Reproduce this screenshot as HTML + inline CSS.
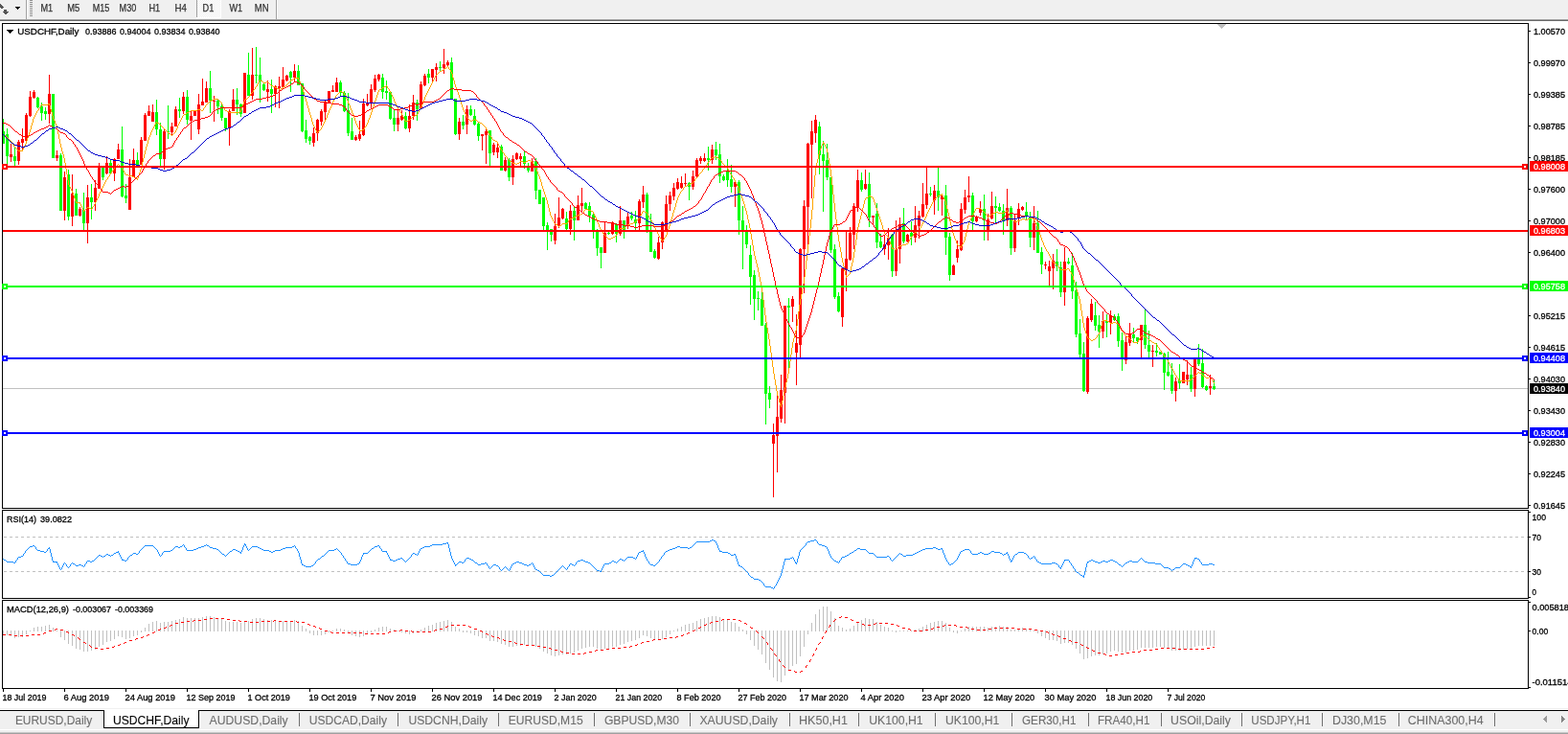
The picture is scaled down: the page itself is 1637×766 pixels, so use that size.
<!DOCTYPE html>
<html><head><meta charset="utf-8"><title>USDCHF,Daily</title>
<style>
html,body{margin:0;padding:0;background:#fff;}
body{width:1637px;height:766px;overflow:hidden;font-family:"Liberation Sans", sans-serif;}
svg{display:block;}
text{white-space:pre;}
.tx text{stroke-width:0.3px;}
.tx .tb text{stroke-width:0.1px;}
</style></head><body>
<svg width="1637" height="766" viewBox="0 0 1637 766" font-family='"Liberation Sans", sans-serif'><g shape-rendering="crispEdges"><defs><clipPath id="cm"><rect x="3" y="25" width="1592" height="505"/></clipPath><clipPath id="cr"><rect x="3" y="533" width="1592" height="91"/></clipPath><clipPath id="cd"><rect x="3" y="627" width="1592" height="91"/></clipPath><pattern id="chk" width="2" height="2" patternUnits="userSpaceOnUse"><rect width="2" height="2" fill="#f0f0f0"/><rect width="1" height="1" fill="#fff"/><rect x="1" y="1" width="1" height="1" fill="#fff"/></pattern></defs><rect x="0" y="0" width="1637" height="20" fill="#f0f0f0"/><rect x="0" y="19" width="1637" height="1" fill="#f5f5f5"/><rect x="0" y="20" width="1637" height="1" fill="#a0a0a0"/><rect x="0" y="21" width="1637" height="1" fill="#696969"/><rect x="27" y="0" width="1" height="20" fill="#a0a0a0"/><rect x="28" y="0" width="1" height="20" fill="#fff"/><rect x="31" y="0" width="3" height="1" fill="#909090"/><rect x="31" y="2" width="3" height="1" fill="#909090"/><rect x="31" y="4" width="3" height="1" fill="#909090"/><rect x="31" y="6" width="3" height="1" fill="#909090"/><rect x="31" y="8" width="3" height="1" fill="#909090"/><rect x="31" y="10" width="3" height="1" fill="#909090"/><rect x="31" y="12" width="3" height="1" fill="#909090"/><rect x="31" y="14" width="3" height="1" fill="#909090"/><rect x="31" y="16" width="3" height="1" fill="#909090"/><rect x="206" y="0" width="24" height="18" fill="url(#chk)"/><rect x="205" y="0" width="1" height="18" fill="#a0a0a0"/><rect x="230" y="0" width="1" height="19" fill="#fff"/><rect x="205" y="18" width="26" height="1" fill="#fff"/><rect x="288" y="0" width="1" height="20" fill="#a0a0a0"/><rect x="289" y="0" width="1" height="20" fill="#fff"/><path d="M0 4l4 3.5l-1.5 2l-2.5-2z" fill="#555"/><path d="M4 10h3v1.5h2.5l-4 4l-4-4h2.5z" fill="#555"/><path d="M16 7h5v1h-1v1h-1v1h-1v-1h-1v-1h-1z" fill="#000"/><g fill="#333" stroke="#333" stroke-width="0.25" font-size="10.3"><text x="42.5" y="12" textLength="12.7" lengthAdjust="spacingAndGlyphs">M1</text><text x="70.3" y="12" textLength="13.0" lengthAdjust="spacingAndGlyphs">M5</text><text x="96.7" y="12" textLength="17.6" lengthAdjust="spacingAndGlyphs">M15</text><text x="124.6" y="12" textLength="17.6" lengthAdjust="spacingAndGlyphs">M30</text><text x="155.4" y="12" textLength="11.7" lengthAdjust="spacingAndGlyphs">H1</text><text x="182.5" y="12" textLength="12.4" lengthAdjust="spacingAndGlyphs">H4</text><text x="211.5" y="12" textLength="11.8" lengthAdjust="spacingAndGlyphs">D1</text><text x="239.4" y="12" textLength="13.6" lengthAdjust="spacingAndGlyphs">W1</text><text x="265.8" y="12" textLength="14.7" lengthAdjust="spacingAndGlyphs">MN</text></g><rect x="3" y="405" width="1592" height="1" fill="#c0c0c0"/><g clip-path="url(#cm)"><path d="M3 124h1v26h-1zM2 137h3v13h-3zM7 134h1v38h-1zM6 140h3v23h-3zM15 154h1v19h-1zM14 163h3v5h-3zM39 101h1v12h-1zM38 102h3v10h-3zM43 107h1v19h-1zM42 111h3v7h-3zM47 112h1v13h-1zM46 116h3v3h-3zM55 98h1v67h-1zM54 98h3v67h-3zM63 160h1v60h-1zM62 162h3v58h-3zM71 177h1v53h-1zM70 182h3v44h-3zM79 197h1v28h-1zM78 202h3v23h-3zM87 201h1v39h-1zM86 219h3v14h-3zM95 192h1v37h-1zM94 206h3v5h-3zM107 173h1v15h-1zM106 174h3v11h-3zM115 166h1v15h-1zM114 170h3v11h-3zM127 132h1v74h-1zM126 156h3v49h-3zM131 192h1v20h-1zM130 204h3v3h-3zM143 159h1v13h-1zM142 167h3v5h-3zM163 104h1v37h-1zM162 117h3v18h-3zM167 128h1v45h-1zM166 135h3v31h-3zM175 110h1v35h-1zM174 137h3v1h-3zM187 102h1v21h-1zM186 114h3v2h-3zM195 94h1v36h-1zM194 101h3v24h-3zM219 74h1v44h-1zM218 92h3v13h-3zM227 103h1v16h-1zM226 105h3v6h-3zM231 108h1v18h-1zM230 111h3v12h-3zM235 123h1v14h-1zM234 123h3v11h-3zM247 92h1v28h-1zM246 104h3v5h-3zM251 108h1v14h-1zM250 109h3v10h-3zM259 55h1v45h-1zM258 78h3v22h-3zM267 49h1v38h-1zM266 78h3v1h-3zM271 60h1v47h-1zM270 78h3v7h-3zM275 87h1v8h-1zM274 88h3v6h-3zM283 83h1v35h-1zM282 93h3v5h-3zM303 74h1v22h-1zM302 75h3v6h-3zM311 68h1v21h-1zM310 74h3v15h-3zM315 87h1v51h-1zM314 87h3v50h-3zM319 125h1v24h-1zM318 136h3v9h-3zM323 142h1v9h-1zM322 143h3v4h-3zM355 84h1v16h-1zM354 86h3v11h-3zM359 95h1v22h-1zM358 97h3v19h-3zM363 97h1v45h-1zM362 115h3v24h-3zM367 123h1v23h-1zM366 137h3v9h-3zM399 77h1v26h-1zM398 81h3v15h-3zM403 84h1v20h-1zM402 95h3v2h-3zM407 96h1v29h-1zM406 96h3v28h-3zM411 114h1v23h-1zM410 123h3v7h-3zM423 117h1v18h-1zM422 121h3v13h-3zM435 104h1v22h-1zM434 107h3v7h-3zM447 72h1v15h-1zM446 77h3v4h-3zM459 64h1v10h-1zM458 70h3v1h-3zM471 60h1v43h-1zM470 65h3v38h-3zM475 103h1v38h-1zM474 103h3v37h-3zM483 120h1v15h-1zM482 127h3v4h-3zM491 110h1v11h-1zM490 114h3v6h-3zM495 114h1v17h-1zM494 121h3v9h-3zM499 128h1v19h-1zM498 129h3v13h-3zM511 136h1v37h-1zM510 136h3v24h-3zM523 151h1v27h-1zM522 153h3v25h-3zM531 165h1v24h-1zM530 167h3v18h-3zM547 158h1v18h-1zM546 163h3v8h-3zM551 170h1v10h-1zM550 175h3v3h-3zM559 165h1v43h-1zM558 168h3v31h-3zM563 198h1v15h-1zM562 198h3v15h-3zM567 206h1v34h-1zM566 206h3v30h-3zM571 232h1v29h-1zM570 235h3v5h-3zM575 239h1v13h-1zM574 239h3v6h-3zM591 221h1v19h-1zM590 228h3v11h-3zM599 215h1v36h-1zM598 220h3v10h-3zM611 211h1v8h-1zM610 212h3v6h-3zM615 211h1v21h-1zM614 215h3v10h-3zM619 223h1v26h-1zM618 224h3v16h-3zM623 239h1v28h-1zM622 242h3v17h-3zM627 258h1v22h-1zM626 258h3v6h-3zM635 242h1v3h-1zM634 243h3v1h-3zM643 233h1v20h-1zM642 234h3v10h-3zM651 230h1v19h-1zM650 230h3v10h-3zM659 221h1v9h-1zM658 225h3v3h-3zM663 220h1v20h-1zM662 229h3v4h-3zM675 201h1v42h-1zM674 203h3v37h-3zM679 223h1v40h-1zM678 240h3v23h-3zM683 260h1v10h-1zM682 262h3v7h-3zM719 190h1v19h-1zM718 191h3v4h-3zM739 153h1v25h-1zM738 165h3v2h-3zM747 148h1v19h-1zM746 156h3v6h-3zM751 150h1v41h-1zM750 161h3v23h-3zM755 182h1v7h-1zM754 184h3v4h-3zM759 166h1v29h-1zM758 179h3v9h-3zM763 172h1v29h-1zM762 187h3v8h-3zM771 188h1v57h-1zM770 190h3v40h-3zM775 215h1v66h-1zM774 230h3v10h-3zM779 235h1v24h-1zM778 241h3v14h-3zM783 256h1v62h-1zM782 266h3v23h-3zM787 282h1v52h-1zM786 287h3v25h-3zM791 304h1v20h-1zM790 311h3v1h-3zM795 305h1v35h-1zM794 312h3v28h-3zM799 337h1v106h-1zM798 339h3v72h-3zM803 403h1v23h-1zM802 410h3v7h-3zM823 311h1v73h-1zM822 319h3v2h-3zM855 127h1v55h-1zM854 132h3v30h-3zM859 147h1v74h-1zM858 161h3v7h-3zM863 150h1v38h-1zM862 167h3v18h-3zM867 185h1v79h-1zM866 185h3v76h-3zM871 255h1v57h-1zM870 260h3v50h-3zM875 305h1v21h-1zM874 309h3v16h-3zM899 180h1v20h-1zM898 188h3v10h-3zM907 180h1v57h-1zM906 192h3v35h-3zM915 212h1v47h-1zM914 223h3v30h-3zM919 244h1v15h-1zM918 252h3v6h-3zM931 244h1v45h-1zM930 245h3v38h-3zM943 217h1v37h-1zM942 233h3v19h-3zM951 231h1v25h-1zM950 243h3v4h-3zM971 195h1v10h-1zM970 202h3v1h-3zM979 175h1v45h-1zM978 199h3v7h-3zM987 193h1v73h-1zM986 204h3v44h-3zM991 243h1v50h-1zM990 247h3v40h-3zM1015 201h1v39h-1zM1014 204h3v27h-3zM1027 203h1v48h-1zM1026 218h3v12h-3zM1039 205h1v28h-1zM1038 215h3v2h-3zM1043 212h1v9h-1zM1042 216h3v4h-3zM1047 213h1v32h-1zM1046 220h3v10h-3zM1055 215h1v51h-1zM1054 217h3v42h-3zM1071 211h1v18h-1zM1070 221h3v5h-3zM1075 221h1v37h-1zM1074 226h3v22h-3zM1083 220h1v44h-1zM1082 233h3v31h-3zM1087 258h1v28h-1zM1086 263h3v13h-3zM1103 260h1v23h-1zM1102 273h3v5h-3zM1107 273h1v37h-1zM1106 279h3v26h-3zM1115 269h1v7h-1zM1114 273h3v2h-3zM1119 264h1v48h-1zM1118 277h3v27h-3zM1123 294h1v58h-1zM1122 303h3v46h-3zM1127 333h1v40h-1zM1126 348h3v22h-3zM1131 357h1v52h-1zM1130 369h3v39h-3zM1143 315h1v30h-1zM1142 329h3v11h-3zM1147 329h1v34h-1zM1146 339h3v7h-3zM1155 328h1v24h-1zM1154 335h3v2h-3zM1163 328h1v7h-1zM1162 330h3v4h-3zM1167 327h1v35h-1zM1166 330h3v26h-3zM1171 347h1v40h-1zM1170 355h3v20h-3zM1183 342h1v15h-1zM1182 349h3v4h-3zM1187 352h1v7h-1zM1186 352h3v4h-3zM1195 323h1v41h-1zM1194 339h3v21h-3zM1199 345h1v28h-1zM1198 360h3v7h-3zM1207 358h1v14h-1zM1206 366h3v2h-3zM1211 367h1v3h-1zM1210 367h3v3h-3zM1215 368h1v39h-1zM1214 369h3v20h-3zM1219 367h1v26h-1zM1218 388h3v4h-3zM1223 379h1v32h-1zM1222 391h3v17h-3zM1231 380h1v26h-1zM1230 397h3v3h-3zM1243 383h1v26h-1zM1242 391h3v15h-3zM1251 359h1v23h-1zM1250 375h3v5h-3zM1255 364h1v41h-1zM1254 379h3v25h-3zM1259 402h1v6h-1zM1258 403h3v4h-3zM1267 396h1v11h-1zM1266 403h3v3h-3z" fill="#00ff00"/><path d="M11 150h1v19h-1zM10 161h3v3h-3zM19 146h1v26h-1zM18 148h3v20h-3zM23 134h1v23h-1zM22 145h3v4h-3zM27 118h1v29h-1zM26 120h3v27h-3zM31 95h1v27h-1zM30 101h3v20h-3zM35 94h1v9h-1zM34 96h3v6h-3zM51 78h1v51h-1zM50 98h3v21h-3zM59 157h1v11h-1zM58 162h3v3h-3zM67 179h1v51h-1zM66 185h3v35h-3zM75 182h1v54h-1zM74 202h3v24h-3zM83 216h1v10h-1zM82 218h3v7h-3zM91 193h1v61h-1zM90 206h3v27h-3zM99 188h1v32h-1zM98 196h3v15h-3zM103 170h1v27h-1zM102 173h3v24h-3zM111 163h1v19h-1zM110 170h3v11h-3zM119 165h1v24h-1zM118 166h3v15h-3zM123 150h1v16h-1zM122 156h3v10h-3zM135 166h1v53h-1zM134 185h3v34h-3zM139 155h1v30h-1zM138 167h3v18h-3zM147 143h1v29h-1zM146 146h3v26h-3zM151 118h1v29h-1zM150 120h3v27h-3zM155 110h1v11h-1zM154 116h3v5h-3zM159 109h1v18h-1zM158 117h3v10h-3zM171 134h1v43h-1zM170 137h3v29h-3zM179 128h1v13h-1zM178 132h3v6h-3zM183 111h1v21h-1zM182 114h3v18h-3zM191 96h1v23h-1zM190 101h3v15h-3zM199 116h1v30h-1zM198 121h3v5h-3zM203 116h1v5h-1zM202 116h3v5h-3zM207 98h1v42h-1zM206 109h3v26h-3zM211 82h1v28h-1zM210 106h3v4h-3zM215 85h1v22h-1zM214 92h3v15h-3zM223 100h1v27h-1zM222 105h3v1h-3zM239 114h1v38h-1zM238 116h3v18h-3zM243 93h1v23h-1zM242 104h3v12h-3zM255 76h1v42h-1zM254 76h3v42h-3zM263 50h1v54h-1zM262 78h3v22h-3zM279 84h1v22h-1zM278 93h3v3h-3zM287 89h1v23h-1zM286 90h3v8h-3zM291 80h1v33h-1zM290 90h3v2h-3zM295 70h1v21h-1zM294 83h3v8h-3zM299 78h1v7h-1zM298 79h3v5h-3zM307 67h1v18h-1zM306 74h3v7h-3zM327 133h1v20h-1zM326 139h3v10h-3zM331 124h1v23h-1zM330 125h3v14h-3zM335 114h1v17h-1zM334 116h3v11h-3zM339 105h1v20h-1zM338 106h3v11h-3zM343 95h1v12h-1zM342 95h3v12h-3zM347 89h1v7h-1zM346 94h3v2h-3zM351 81h1v15h-1zM350 86h3v10h-3zM371 141h1v6h-1zM370 143h3v3h-3zM375 126h1v21h-1zM374 140h3v5h-3zM379 103h1v39h-1zM378 108h3v33h-3zM383 98h1v13h-1zM382 107h3v3h-3zM387 88h1v26h-1zM386 93h3v14h-3zM391 78h1v18h-1zM390 82h3v12h-3zM395 77h1v8h-1zM394 78h3v5h-3zM415 114h1v23h-1zM414 123h3v7h-3zM419 115h1v11h-1zM418 121h3v4h-3zM427 109h1v29h-1zM426 121h3v13h-3zM431 99h1v26h-1zM430 107h3v14h-3zM439 85h1v29h-1zM438 88h3v26h-3zM443 77h1v13h-1zM442 79h3v10h-3zM451 72h1v13h-1zM450 72h3v9h-3zM455 66h1v19h-1zM454 70h3v3h-3zM463 51h1v26h-1zM462 67h3v4h-3zM467 63h1v6h-1zM466 65h3v3h-3zM479 123h1v23h-1zM478 127h3v13h-3zM487 110h1v30h-1zM486 114h3v16h-3zM503 140h1v17h-1zM502 140h3v2h-3zM507 135h1v36h-1zM506 137h3v4h-3zM515 149h1v13h-1zM514 151h3v8h-3zM519 149h1v16h-1zM518 154h3v5h-3zM527 164h1v15h-1zM526 167h3v11h-3zM535 162h1v31h-1zM534 166h3v19h-3zM539 159h1v8h-1zM538 160h3v6h-3zM543 160h1v13h-1zM542 163h3v3h-3zM555 165h1v14h-1zM554 168h3v11h-3zM579 223h1v32h-1zM578 236h3v15h-3zM583 206h1v32h-1zM582 227h3v8h-3zM587 217h1v12h-1zM586 218h3v10h-3zM595 214h1v31h-1zM594 220h3v19h-3zM603 204h1v26h-1zM602 214h3v16h-3zM607 196h1v25h-1zM606 212h3v3h-3zM631 232h1v32h-1zM630 243h3v21h-3zM639 231h1v14h-1zM638 233h3v11h-3zM647 215h1v31h-1zM646 230h3v14h-3zM655 221h1v18h-1zM654 226h3v9h-3zM667 208h1v34h-1zM666 210h3v23h-3zM671 194h1v23h-1zM670 203h3v8h-3zM687 247h1v24h-1zM686 253h3v17h-3zM691 231h1v29h-1zM690 232h3v21h-3zM695 204h1v38h-1zM694 213h3v29h-3zM699 200h1v20h-1zM698 204h3v9h-3zM703 191h1v18h-1zM702 196h3v9h-3zM707 186h1v12h-1zM706 190h3v7h-3zM711 184h1v13h-1zM710 191h3v5h-3zM715 181h1v13h-1zM714 191h3v1h-3zM723 178h1v20h-1zM722 184h3v11h-3zM727 165h1v20h-1zM726 167h3v17h-3zM731 163h1v8h-1zM730 165h3v3h-3zM735 160h1v9h-1zM734 165h3v3h-3zM743 151h1v20h-1zM742 156h3v11h-3zM767 189h1v27h-1zM766 190h3v5h-3zM807 442h1v77h-1zM806 454h3v9h-3zM811 412h1v81h-1zM810 435h3v20h-3zM815 391h1v50h-1zM814 407h3v30h-3zM819 319h1v123h-1zM818 319h3v91h-3zM827 309h1v27h-1zM826 312h3v8h-3zM831 328h1v74h-1zM830 358h3v10h-3zM835 259h1v114h-1zM834 260h3v100h-3zM839 209h1v97h-1zM838 215h3v45h-3zM843 149h1v106h-1zM842 150h3v66h-3zM847 126h1v81h-1zM846 137h3v14h-3zM851 120h1v29h-1zM850 125h3v14h-3zM879 280h1v61h-1zM878 280h3v51h-3zM883 240h1v64h-1zM882 270h3v12h-3zM887 237h1v35h-1zM886 243h3v28h-3zM891 212h1v48h-1zM890 215h3v30h-3zM895 177h1v44h-1zM894 188h3v28h-3zM903 177h1v21h-1zM902 192h3v5h-3zM911 225h1v10h-1zM910 225h3v2h-3zM923 246h1v20h-1zM922 255h3v5h-3zM927 238h1v33h-1zM926 248h3v8h-3zM935 230h1v58h-1zM934 260h3v23h-3zM939 227h1v48h-1zM938 234h3v26h-3zM947 244h1v9h-1zM946 245h3v7h-3zM955 215h1v38h-1zM954 235h3v13h-3zM959 220h1v29h-1zM958 225h3v11h-3zM963 191h1v36h-1zM962 213h3v13h-3zM967 175h1v43h-1zM966 202h3v12h-3zM975 193h1v31h-1zM974 199h3v10h-3zM983 202h1v23h-1zM982 204h3v4h-3zM995 276h1v11h-1zM994 277h3v10h-3zM999 251h1v23h-1zM998 260h3v9h-3zM1003 212h1v50h-1zM1002 218h3v43h-3zM1007 198h1v25h-1zM1006 206h3v13h-3zM1011 184h1v27h-1zM1010 204h3v2h-3zM1019 225h1v7h-1zM1018 226h3v5h-3zM1023 210h1v15h-1zM1022 218h3v4h-3zM1031 223h1v28h-1zM1030 229h3v11h-3zM1035 200h1v29h-1zM1034 215h3v13h-3zM1051 197h1v39h-1zM1050 217h3v13h-3zM1059 224h1v39h-1zM1058 230h3v29h-3zM1063 212h1v23h-1zM1062 218h3v9h-3zM1067 215h1v5h-1zM1066 216h3v3h-3zM1079 215h1v46h-1zM1078 233h3v15h-3zM1091 273h1v8h-1zM1090 276h3v1h-3zM1095 272h1v26h-1zM1094 278h3v5h-3zM1099 265h1v37h-1zM1098 272h3v8h-3zM1111 258h1v61h-1zM1110 273h3v32h-3zM1135 330h1v81h-1zM1134 332h3v77h-3zM1139 312h1v24h-1zM1138 317h3v17h-3zM1151 325h1v28h-1zM1150 335h3v11h-3zM1159 324h1v25h-1zM1158 329h3v8h-3zM1175 351h1v29h-1zM1174 357h3v19h-3zM1179 337h1v24h-1zM1178 348h3v10h-3zM1191 339h1v34h-1zM1190 339h3v16h-3zM1203 360h1v23h-1zM1202 366h3v1h-3zM1227 394h1v25h-1zM1226 398h3v10h-3zM1235 388h1v12h-1zM1234 388h3v12h-3zM1239 376h1v26h-1zM1238 391h3v5h-3zM1247 375h1v39h-1zM1246 375h3v31h-3zM1263 391h1v21h-1zM1262 403h3v2h-3z" fill="#ff0000"/></g><path d="M467 69h1v1h-1zM466 70h1v1h-1zM468 70h1v2h-1zM464 71h2v1h-2zM463 72h1v1h-1zM469 72h1v1h-1zM461 73h2v1h-2zM470 73h1v2h-1zM459 74h2v1h-2zM458 75h1v1h-1zM471 75h1v2h-1zM457 76h1v1h-1zM456 77h1v1h-1zM472 77h1v4h-1zM455 78h1v1h-1zM454 79h1v2h-1zM307 81h5v1h-5zM453 81h1v2h-1zM473 81h1v3h-1zM306 82h1v1h-1zM311 82h1v1h-1zM271 83h1v1h-1zM304 83h2v1h-2zM312 83h1v2h-1zM452 83h1v2h-1zM270 84h1v2h-1zM272 84h2v1h-2zM303 84h1v1h-1zM474 84h1v4h-1zM274 85h1v1h-1zM278 85h2v1h-2zM302 85h1v1h-1zM313 85h1v3h-1zM451 85h1v2h-1zM269 86h1v2h-1zM275 86h3v1h-3zM280 86h1v1h-1zM301 86h1v1h-1zM281 87h1v1h-1zM300 87h1v1h-1zM450 87h1v2h-1zM268 88h1v2h-1zM282 88h1v1h-1zM299 88h1v1h-1zM314 88h1v2h-1zM475 88h1v3h-1zM283 89h2v1h-2zM298 89h1v1h-1zM403 89h1v1h-1zM449 89h1v2h-1zM267 90h1v1h-1zM285 90h2v1h-2zM296 90h2v1h-2zM315 90h1v3h-1zM401 90h2v1h-2zM404 90h1v2h-1zM266 91h1v2h-1zM287 91h2v1h-2zM295 91h1v1h-1zM399 91h2v1h-2zM448 91h1v2h-1zM476 91h1v3h-1zM289 92h2v1h-2zM293 92h2v1h-2zM398 92h1v1h-1zM405 92h1v1h-1zM265 93h1v1h-1zM291 93h2v1h-2zM316 93h1v3h-1zM396 93h2v1h-2zM406 93h1v2h-1zM447 93h1v2h-1zM264 94h1v2h-1zM395 94h1v2h-1zM477 94h1v2h-1zM355 95h2v1h-2zM407 95h1v2h-1zM446 95h1v2h-1zM263 96h1v1h-1zM317 96h1v4h-1zM354 96h1v1h-1zM357 96h2v1h-2zM394 96h1v3h-1zM478 96h1v3h-1zM262 97h1v1h-1zM353 97h1v1h-1zM359 97h1v2h-1zM408 97h1v2h-1zM445 97h1v2h-1zM261 98h1v2h-1zM352 98h1v1h-1zM351 99h1v1h-1zM360 99h1v2h-1zM393 99h1v3h-1zM409 99h1v2h-1zM444 99h1v2h-1zM479 99h1v3h-1zM260 100h1v1h-1zM318 100h1v3h-1zM350 100h1v2h-1zM259 101h1v1h-1zM361 101h1v2h-1zM410 101h1v2h-1zM443 101h1v3h-1zM258 102h1v1h-1zM349 102h1v2h-1zM392 102h1v3h-1zM480 102h1v3h-1zM223 103h5v1h-5zM256 103h2v1h-2zM319 103h1v3h-1zM362 103h1v2h-1zM411 103h1v3h-1zM221 104h2v1h-2zM228 104h1v1h-1zM255 104h1v2h-1zM348 104h1v2h-1zM442 104h1v2h-1zM219 105h2v1h-2zM229 105h1v1h-1zM363 105h1v3h-1zM391 105h1v3h-1zM481 105h1v4h-1zM218 106h1v1h-1zM230 106h1v1h-1zM254 106h1v3h-1zM320 106h1v4h-1zM347 106h1v3h-1zM412 106h1v2h-1zM441 106h1v3h-1zM217 107h1v1h-1zM231 107h1v2h-1zM50 108h2v1h-2zM216 108h1v1h-1zM364 108h1v2h-1zM390 108h1v3h-1zM413 108h1v2h-1zM43 109h7v1h-7zM51 109h1v1h-1zM215 109h1v1h-1zM232 109h1v2h-1zM253 109h1v3h-1zM346 109h1v2h-1zM440 109h1v2h-1zM482 109h1v3h-1zM42 110h1v2h-1zM52 110h1v4h-1zM214 110h1v2h-1zM321 110h1v3h-1zM365 110h1v3h-1zM414 110h1v2h-1zM233 111h1v2h-1zM345 111h1v2h-1zM389 111h1v3h-1zM439 111h1v2h-1zM41 112h1v1h-1zM213 112h1v1h-1zM252 112h1v3h-1zM415 112h1v2h-1zM483 112h1v3h-1zM40 113h1v2h-1zM212 113h1v2h-1zM234 113h1v2h-1zM322 113h1v4h-1zM344 113h1v2h-1zM366 113h1v2h-1zM438 113h1v2h-1zM53 114h1v3h-1zM206 114h4v1h-4zM388 114h1v3h-1zM416 114h1v1h-1zM39 115h1v1h-1zM199 115h7v1h-7zM210 115h2v1h-2zM235 115h2v1h-2zM251 115h1v2h-1zM343 115h1v3h-1zM367 115h1v3h-1zM417 115h1v2h-1zM437 115h1v2h-1zM484 115h1v2h-1zM38 116h1v2h-1zM197 116h2v1h-2zM237 116h2v1h-2zM250 116h1v1h-1zM54 117h1v4h-1zM195 117h2v1h-2zM239 117h11v1h-11zM323 117h1v3h-1zM387 117h1v3h-1zM418 117h1v1h-1zM436 117h1v2h-1zM485 117h1v2h-1zM37 118h1v2h-1zM194 118h1v1h-1zM342 118h1v2h-1zM368 118h1v3h-1zM419 118h1v2h-1zM192 119h2v1h-2zM435 119h1v1h-1zM486 119h1v2h-1zM36 120h1v2h-1zM191 120h1v1h-1zM324 120h1v3h-1zM341 120h1v3h-1zM386 120h1v3h-1zM420 120h1v2h-1zM433 120h2v1h-2zM55 121h1v3h-1zM190 121h1v2h-1zM369 121h1v2h-1zM431 121h2v1h-2zM487 121h1v2h-1zM35 122h1v2h-1zM421 122h1v2h-1zM430 122h1v1h-1zM189 123h1v2h-1zM325 123h1v4h-1zM340 123h1v2h-1zM370 123h1v3h-1zM385 123h1v2h-1zM429 123h1v1h-1zM488 123h1v1h-1zM34 124h1v4h-1zM56 124h1v2h-1zM422 124h1v2h-1zM428 124h1v1h-1zM489 124h1v1h-1zM495 124h1v1h-1zM188 125h1v2h-1zM339 125h1v2h-1zM384 125h1v3h-1zM426 125h2v1h-2zM490 125h1v1h-1zM493 125h2v1h-2zM496 125h2v1h-2zM57 126h1v3h-1zM371 126h1v3h-1zM423 126h3v1h-3zM491 126h2v1h-2zM498 126h1v1h-1zM163 127h1v1h-1zM187 127h1v2h-1zM326 127h1v3h-1zM338 127h1v2h-1zM499 127h2v1h-2zM33 128h1v3h-1zM162 128h1v2h-1zM164 128h2v1h-2zM383 128h1v2h-1zM501 128h2v1h-2zM58 129h1v2h-1zM166 129h1v1h-1zM186 129h1v2h-1zM337 129h1v2h-1zM372 129h1v2h-1zM503 129h1v1h-1zM161 130h1v2h-1zM167 130h1v1h-1zM327 130h1v2h-1zM382 130h1v2h-1zM504 130h1v1h-1zM32 131h1v4h-1zM59 131h1v4h-1zM168 131h1v1h-1zM185 131h1v3h-1zM336 131h1v2h-1zM373 131h1v2h-1zM505 131h1v1h-1zM160 132h1v2h-1zM169 132h1v1h-1zM328 132h1v2h-1zM381 132h1v1h-1zM506 132h1v1h-1zM170 133h1v1h-1zM335 133h1v2h-1zM374 133h1v2h-1zM380 133h1v2h-1zM507 133h1v2h-1zM159 134h1v2h-1zM171 134h1v1h-1zM184 134h1v2h-1zM329 134h1v2h-1zM31 135h1v3h-1zM60 135h1v5h-1zM172 135h1v1h-1zM334 135h1v1h-1zM375 135h1v2h-1zM378 135h2v1h-2zM508 135h1v2h-1zM158 136h1v2h-1zM173 136h1v1h-1zM183 136h1v2h-1zM330 136h1v2h-1zM333 136h1v1h-1zM376 136h2v1h-2zM174 137h1v1h-1zM332 137h1v1h-1zM509 137h1v2h-1zM30 138h1v3h-1zM157 138h1v3h-1zM175 138h1v1h-1zM182 138h1v1h-1zM331 138h1v1h-1zM176 139h2v1h-2zM181 139h1v1h-1zM510 139h1v2h-1zM3 140h1v1h-1zM61 140h1v5h-1zM178 140h1v1h-1zM180 140h1v1h-1zM4 141h2v1h-2zM29 141h1v3h-1zM156 141h1v2h-1zM179 141h1v1h-1zM511 141h1v1h-1zM6 142h1v1h-1zM512 142h1v1h-1zM7 143h1v1h-1zM155 143h1v3h-1zM513 143h1v2h-1zM8 144h1v1h-1zM28 144h1v3h-1zM9 145h1v1h-1zM62 145h1v5h-1zM514 145h1v1h-1zM10 146h1v1h-1zM154 146h1v4h-1zM515 146h2v1h-2zM11 147h1v1h-1zM27 147h1v3h-1zM517 147h2v1h-2zM12 148h1v2h-1zM519 148h1v2h-1zM859 148h1v2h-1zM860 149h1v2h-1zM13 150h1v1h-1zM26 150h1v2h-1zM63 150h1v4h-1zM153 150h1v3h-1zM520 150h1v2h-1zM858 150h1v2h-1zM14 151h1v2h-1zM861 151h1v2h-1zM25 152h1v2h-1zM521 152h1v2h-1zM857 152h1v3h-1zM15 153h1v1h-1zM152 153h1v4h-1zM862 153h1v2h-1zM16 154h1v1h-1zM24 154h1v2h-1zM64 154h1v4h-1zM522 154h1v2h-1zM17 155h1v1h-1zM856 155h1v2h-1zM863 155h1v4h-1zM18 156h1v1h-1zM23 156h1v2h-1zM523 156h1v1h-1zM19 157h4v1h-4zM151 157h1v4h-1zM524 157h1v2h-1zM855 157h1v4h-1zM65 158h1v3h-1zM525 159h1v1h-1zM864 159h1v6h-1zM526 160h1v2h-1zM66 161h1v4h-1zM150 161h1v4h-1zM854 161h1v5h-1zM527 162h1v1h-1zM528 163h1v1h-1zM746 163h2v1h-2zM529 164h1v2h-1zM743 164h3v1h-3zM748 164h2v1h-2zM67 165h1v5h-1zM149 165h1v4h-1zM742 165h1v1h-1zM750 165h1v1h-1zM865 165h1v6h-1zM530 166h1v1h-1zM741 166h1v2h-1zM751 166h1v1h-1zM853 166h1v4h-1zM531 167h1v1h-1zM551 167h3v1h-3zM752 167h1v1h-1zM532 168h2v1h-2zM543 168h3v1h-3zM549 168h2v1h-2zM554 168h2v1h-2zM740 168h1v1h-1zM753 168h1v2h-1zM148 169h1v4h-1zM534 169h1v1h-1zM542 169h1v1h-1zM546 169h3v1h-3zM556 169h1v2h-1zM739 169h1v1h-1zM68 170h1v6h-1zM535 170h3v1h-3zM540 170h2v1h-2zM738 170h1v2h-1zM754 170h1v1h-1zM852 170h1v5h-1zM123 171h1v1h-1zM538 171h2v1h-2zM557 171h1v2h-1zM755 171h1v1h-1zM866 171h1v6h-1zM122 172h1v1h-1zM124 172h1v1h-1zM737 172h1v1h-1zM756 172h1v1h-1zM121 173h1v1h-1zM125 173h1v1h-1zM147 173h1v4h-1zM558 173h1v2h-1zM736 173h1v2h-1zM757 173h1v1h-1zM120 174h1v1h-1zM126 174h1v1h-1zM758 174h1v1h-1zM119 175h1v1h-1zM127 175h1v1h-1zM559 175h1v2h-1zM735 175h1v1h-1zM759 175h1v1h-1zM851 175h1v8h-1zM69 176h1v6h-1zM118 176h1v2h-1zM128 176h1v2h-1zM734 176h1v1h-1zM760 176h1v2h-1zM146 177h1v3h-1zM560 177h1v2h-1zM733 177h1v2h-1zM867 177h1v7h-1zM117 178h1v1h-1zM129 178h1v2h-1zM761 178h1v2h-1zM116 179h1v2h-1zM561 179h1v3h-1zM732 179h1v1h-1zM130 180h1v2h-1zM145 180h1v3h-1zM731 180h1v1h-1zM762 180h1v2h-1zM115 181h1v1h-1zM730 181h1v1h-1zM70 182h1v6h-1zM114 182h1v2h-1zM131 182h3v1h-3zM562 182h1v2h-1zM729 182h1v2h-1zM763 182h1v1h-1zM134 183h4v1h-4zM144 183h1v3h-1zM764 183h1v2h-1zM850 183h1v12h-1zM113 184h1v1h-1zM138 184h2v1h-2zM563 184h1v3h-1zM728 184h1v1h-1zM868 184h1v9h-1zM112 185h1v2h-1zM140 185h2v1h-2zM727 185h1v1h-1zM765 185h1v1h-1zM142 186h2v1h-2zM726 186h1v1h-1zM766 186h1v2h-1zM111 187h1v1h-1zM143 187h1v1h-1zM564 187h1v3h-1zM725 187h1v2h-1zM71 188h1v5h-1zM110 188h1v2h-1zM767 188h1v2h-1zM724 189h1v1h-1zM109 190h1v2h-1zM565 190h1v4h-1zM723 190h1v1h-1zM768 190h1v2h-1zM721 191h2v1h-2zM108 192h1v2h-1zM719 192h2v1h-2zM769 192h1v2h-1zM72 193h1v2h-1zM717 193h2v1h-2zM869 193h1v10h-1zM107 194h1v2h-1zM566 194h1v3h-1zM715 194h2v1h-2zM770 194h1v2h-1zM73 195h1v2h-1zM714 195h1v1h-1zM849 195h1v12h-1zM106 196h1v2h-1zM713 196h1v2h-1zM771 196h1v3h-1zM74 197h1v2h-1zM567 197h1v3h-1zM105 198h1v2h-1zM712 198h1v1h-1zM75 199h1v2h-1zM711 199h1v1h-1zM772 199h1v3h-1zM104 200h1v2h-1zM568 200h1v3h-1zM710 200h1v2h-1zM76 201h1v3h-1zM103 202h1v3h-1zM709 202h1v2h-1zM773 202h1v2h-1zM983 202h1v2h-1zM569 203h1v3h-1zM870 203h1v9h-1zM981 203h2v1h-2zM77 204h1v3h-1zM708 204h1v2h-1zM774 204h1v3h-1zM907 204h2v1h-2zM979 204h2v1h-2zM984 204h1v2h-1zM102 205h1v2h-1zM906 205h1v1h-1zM909 205h2v1h-2zM978 205h1v1h-1zM570 206h1v3h-1zM707 206h1v3h-1zM904 206h2v1h-2zM911 206h1v2h-1zM977 206h1v1h-1zM985 206h1v2h-1zM78 207h1v3h-1zM101 207h1v2h-1zM775 207h1v3h-1zM848 207h1v12h-1zM903 207h1v2h-1zM976 207h1v1h-1zM912 208h1v3h-1zM975 208h1v1h-1zM986 208h1v2h-1zM100 209h1v2h-1zM571 209h1v4h-1zM706 209h1v3h-1zM902 209h1v4h-1zM974 209h1v2h-1zM79 210h1v2h-1zM776 210h1v3h-1zM987 210h1v4h-1zM80 211h4v1h-4zM99 211h1v2h-1zM913 211h1v3h-1zM973 211h1v2h-1zM83 212h1v1h-1zM705 212h1v4h-1zM871 212h1v9h-1zM84 213h1v2h-1zM98 213h1v2h-1zM572 213h1v4h-1zM777 213h1v4h-1zM901 213h1v4h-1zM972 213h1v2h-1zM914 214h1v3h-1zM988 214h1v4h-1zM85 215h1v2h-1zM97 215h1v1h-1zM971 215h1v2h-1zM91 216h2v1h-2zM96 216h1v2h-1zM704 216h1v3h-1zM86 217h1v2h-1zM90 217h1v1h-1zM93 217h2v1h-2zM573 217h1v4h-1zM778 217h1v3h-1zM900 217h1v4h-1zM915 217h1v3h-1zM970 217h1v2h-1zM1019 217h5v1h-5zM89 218h1v1h-1zM95 218h1v1h-1zM611 218h3v1h-3zM989 218h1v4h-1zM1018 218h1v2h-1zM1024 218h1v1h-1zM87 219h2v1h-2zM610 219h1v1h-1zM614 219h3v1h-3zM703 219h1v3h-1zM847 219h1v10h-1zM969 219h1v2h-1zM1025 219h1v1h-1zM1051 219h1v2h-1zM87 220h1v1h-1zM609 220h1v2h-1zM617 220h2v1h-2zM671 220h2v1h-2zM779 220h1v4h-1zM916 220h1v3h-1zM1017 220h1v2h-1zM1026 220h1v1h-1zM1050 220h1v1h-1zM574 221h1v4h-1zM619 221h1v2h-1zM670 221h1v2h-1zM673 221h2v1h-2zM872 221h1v8h-1zM899 221h1v4h-1zM968 221h1v2h-1zM1027 221h1v1h-1zM1039 221h3v1h-3zM1048 221h2v1h-2zM1052 221h1v2h-1zM608 222h1v1h-1zM675 222h1v1h-1zM702 222h1v4h-1zM990 222h1v4h-1zM1016 222h1v2h-1zM1028 222h1v1h-1zM1037 222h2v1h-2zM1042 222h6v1h-6zM606 223h2v1h-2zM620 223h1v2h-1zM669 223h1v2h-1zM676 223h1v2h-1zM917 223h1v3h-1zM967 223h1v3h-1zM1029 223h1v2h-1zM1035 223h2v1h-2zM1053 223h1v2h-1zM603 224h3v1h-3zM780 224h1v5h-1zM1015 224h1v2h-1zM1034 224h1v1h-1zM575 225h1v2h-1zM601 225h2v1h-2zM621 225h1v2h-1zM668 225h1v2h-1zM677 225h1v2h-1zM898 225h1v4h-1zM1030 225h1v1h-1zM1032 225h2v1h-2zM1054 225h1v2h-1zM599 226h2v1h-2zM701 226h1v3h-1zM918 226h1v3h-1zM966 226h1v2h-1zM991 226h1v5h-1zM1014 226h1v2h-1zM1031 226h1v1h-1zM576 227h1v2h-1zM597 227h2v1h-2zM622 227h1v2h-1zM667 227h1v1h-1zM678 227h1v2h-1zM1055 227h1v2h-1zM1075 227h3v1h-3zM595 228h2v1h-2zM666 228h1v1h-1zM965 228h1v2h-1zM1013 228h1v2h-1zM1067 228h3v1h-3zM1073 228h2v1h-2zM1078 228h2v1h-2zM577 229h1v2h-1zM594 229h1v1h-1zM623 229h1v3h-1zM665 229h1v1h-1zM679 229h1v1h-1zM700 229h1v4h-1zM781 229h1v4h-1zM846 229h1v9h-1zM873 229h1v8h-1zM897 229h1v4h-1zM919 229h1v3h-1zM1056 229h2v1h-2zM1065 229h2v1h-2zM1070 229h3v1h-3zM1079 229h1v1h-1zM593 230h1v2h-1zM664 230h1v1h-1zM680 230h1v2h-1zM964 230h1v2h-1zM1012 230h1v2h-1zM1058 230h1v1h-1zM1062 230h3v1h-3zM1080 230h1v2h-1zM578 231h1v2h-1zM663 231h1v1h-1zM992 231h1v4h-1zM1059 231h3v1h-3zM592 232h1v1h-1zM624 232h1v2h-1zM661 232h2v1h-2zM681 232h1v2h-1zM920 232h1v3h-1zM963 232h1v2h-1zM1011 232h1v3h-1zM1081 232h1v2h-1zM579 233h1v1h-1zM587 233h5v1h-5zM658 233h3v1h-3zM699 233h1v3h-1zM782 233h1v5h-1zM896 233h1v4h-1zM580 234h2v1h-2zM586 234h1v1h-1zM625 234h1v3h-1zM655 234h3v1h-3zM682 234h1v2h-1zM962 234h1v2h-1zM1082 234h1v2h-1zM582 235h1v1h-1zM584 235h2v1h-2zM654 235h1v1h-1zM921 235h1v4h-1zM993 235h1v4h-1zM1010 235h1v4h-1zM583 236h1v1h-1zM653 236h1v1h-1zM683 236h1v2h-1zM698 236h1v3h-1zM961 236h1v2h-1zM1083 236h1v3h-1zM626 237h1v2h-1zM652 237h1v1h-1zM874 237h1v8h-1zM895 237h1v6h-1zM647 238h5v1h-5zM684 238h1v2h-1zM783 238h1v6h-1zM845 238h1v8h-1zM960 238h1v2h-1zM627 239h1v2h-1zM646 239h1v2h-1zM697 239h1v3h-1zM922 239h1v3h-1zM994 239h1v4h-1zM1009 239h1v4h-1zM1084 239h1v3h-1zM685 240h1v2h-1zM959 240h1v1h-1zM628 241h1v1h-1zM645 241h1v2h-1zM957 241h2v1h-2zM629 242h1v2h-1zM686 242h1v2h-1zM696 242h1v3h-1zM923 242h1v2h-1zM955 242h2v1h-2zM1085 242h1v3h-1zM644 243h1v2h-1zM894 243h1v7h-1zM954 243h1v1h-1zM995 243h1v3h-1zM1008 243h1v4h-1zM630 244h1v1h-1zM687 244h1v2h-1zM784 244h1v6h-1zM924 244h1v1h-1zM953 244h1v2h-1zM631 245h1v1h-1zM643 245h1v1h-1zM695 245h1v2h-1zM875 245h1v7h-1zM925 245h1v1h-1zM1086 245h1v3h-1zM632 246h1v1h-1zM642 246h1v1h-1zM688 246h1v2h-1zM844 246h1v9h-1zM926 246h1v1h-1zM952 246h1v1h-1zM996 246h1v3h-1zM633 247h1v1h-1zM640 247h2v1h-2zM694 247h1v1h-1zM927 247h1v2h-1zM951 247h1v1h-1zM1007 247h1v4h-1zM634 248h1v1h-1zM638 248h2v1h-2zM689 248h1v1h-1zM693 248h1v2h-1zM950 248h1v2h-1zM1087 248h1v3h-1zM635 249h3v1h-3zM690 249h1v2h-1zM928 249h1v3h-1zM997 249h1v2h-1zM692 250h1v1h-1zM785 250h1v6h-1zM893 250h1v6h-1zM949 250h1v2h-1zM691 251h1v1h-1zM998 251h1v3h-1zM1006 251h1v2h-1zM1088 251h1v2h-1zM876 252h1v6h-1zM929 252h1v3h-1zM948 252h1v2h-1zM1005 253h1v2h-1zM1089 253h1v3h-1zM946 254h2v1h-2zM999 254h1v2h-1zM843 255h1v9h-1zM930 255h1v3h-1zM942 255h4v1h-4zM1004 255h1v2h-1zM786 256h1v6h-1zM892 256h1v7h-1zM939 256h3v1h-3zM1000 256h2v1h-2zM1090 256h1v2h-1zM938 257h1v1h-1zM1002 257h2v1h-2zM877 258h1v5h-1zM931 258h1v2h-1zM937 258h1v1h-1zM1003 258h1v1h-1zM1091 258h1v2h-1zM932 259h2v1h-2zM936 259h1v1h-1zM934 260h2v1h-2zM1092 260h1v2h-1zM787 262h1v5h-1zM1093 262h1v1h-1zM878 263h1v6h-1zM891 263h1v6h-1zM1094 263h1v2h-1zM842 264h1v8h-1zM1095 265h1v2h-1zM788 267h1v4h-1zM1096 267h1v2h-1zM879 269h1v5h-1zM890 269h1v5h-1zM1097 269h1v2h-1zM789 271h1v4h-1zM1098 271h1v2h-1zM841 272h1v9h-1zM1099 273h1v1h-1zM880 274h1v4h-1zM889 274h1v4h-1zM1100 274h2v1h-2zM790 275h1v4h-1zM1102 275h1v1h-1zM1103 276h1v1h-1zM1104 277h1v1h-1zM881 278h1v5h-1zM888 278h1v5h-1zM1105 278h1v2h-1zM791 279h1v5h-1zM1106 280h1v1h-1zM1114 280h2v1h-2zM840 281h1v8h-1zM1107 281h7v1h-7zM1116 281h1v2h-1zM882 283h1v4h-1zM887 283h1v3h-1zM1117 283h1v1h-1zM792 284h1v5h-1zM1118 284h1v2h-1zM886 286h1v1h-1zM1119 286h1v2h-1zM883 287h1v3h-1zM885 287h1v1h-1zM884 288h1v1h-1zM1120 288h1v4h-1zM793 289h1v5h-1zM839 289h1v7h-1zM1121 292h1v3h-1zM794 294h1v5h-1zM1122 295h1v4h-1zM838 296h1v5h-1zM795 299h1v6h-1zM1123 299h1v3h-1zM837 301h1v6h-1zM1124 302h1v3h-1zM796 305h1v8h-1zM1125 305h1v4h-1zM836 307h1v5h-1zM1126 309h1v3h-1zM835 312h1v6h-1zM1127 312h1v5h-1zM797 313h1v8h-1zM1128 317h1v7h-1zM834 318h1v7h-1zM798 321h1v8h-1zM1129 324h1v6h-1zM833 325h1v8h-1zM799 329h1v7h-1zM1130 330h1v7h-1zM832 333h1v7h-1zM1151 334h5v1h-5zM1151 335h1v1h-1zM1156 335h2v1h-2zM800 336h1v6h-1zM1150 336h1v4h-1zM1158 336h1v1h-1zM1162 336h3v1h-3zM1131 337h1v5h-1zM1159 337h3v1h-3zM1165 337h2v1h-2zM1167 338h1v1h-1zM1168 339h1v2h-1zM831 340h1v5h-1zM1149 340h1v3h-1zM1169 341h1v2h-1zM801 342h1v6h-1zM1132 342h1v3h-1zM1148 343h1v4h-1zM1170 343h1v2h-1zM830 345h1v4h-1zM1133 345h1v3h-1zM1171 345h1v1h-1zM1172 346h1v1h-1zM1147 347h1v2h-1zM1173 347h1v2h-1zM802 348h1v6h-1zM1134 348h1v3h-1zM829 349h1v4h-1zM1146 349h1v1h-1zM1174 349h1v1h-1zM1145 350h1v2h-1zM1175 350h1v1h-1zM1191 350h3v1h-3zM1135 351h1v2h-1zM1176 351h2v1h-2zM1190 351h1v2h-1zM1194 351h2v1h-2zM1144 352h1v1h-1zM1178 352h1v1h-1zM1196 352h2v1h-2zM828 353h1v4h-1zM1136 353h2v1h-2zM1143 353h1v1h-1zM1179 353h1v1h-1zM1189 353h1v2h-1zM1198 353h1v1h-1zM803 354h1v7h-1zM1138 354h1v1h-1zM1141 354h2v1h-2zM1180 354h1v1h-1zM1199 354h1v1h-1zM1139 355h2v1h-2zM1181 355h1v1h-1zM1188 355h1v2h-1zM1200 355h2v1h-2zM1182 356h1v1h-1zM1202 356h1v1h-1zM827 357h1v6h-1zM1183 357h5v1h-5zM1203 357h2v1h-2zM1205 358h2v1h-2zM1207 359h1v1h-1zM1208 360h1v2h-1zM804 361h1v7h-1zM1209 362h1v1h-1zM826 363h1v7h-1zM1210 363h1v2h-1zM1211 365h1v1h-1zM1212 366h1v2h-1zM805 368h1v8h-1zM1213 368h1v1h-1zM1214 369h1v2h-1zM825 370h1v7h-1zM1215 371h1v1h-1zM1216 372h1v1h-1zM1217 373h1v2h-1zM1218 375h1v1h-1zM806 376h1v7h-1zM1219 376h1v2h-1zM824 377h1v7h-1zM1220 378h1v2h-1zM1221 380h1v2h-1zM1222 382h1v2h-1zM807 383h1v7h-1zM823 384h1v6h-1zM1223 384h1v1h-1zM1224 385h1v2h-1zM1225 387h1v2h-1zM1251 388h1v1h-1zM1226 389h1v2h-1zM1250 389h1v1h-1zM1252 389h2v1h-2zM808 390h1v6h-1zM822 390h1v5h-1zM1249 390h1v1h-1zM1254 390h1v1h-1zM1227 391h1v1h-1zM1248 391h1v1h-1zM1255 391h1v1h-1zM1228 392h1v2h-1zM1247 392h1v1h-1zM1256 392h2v1h-2zM1246 393h1v1h-1zM1258 393h1v1h-1zM1262 393h2v1h-2zM1229 394h1v1h-1zM1245 394h1v1h-1zM1259 394h3v1h-3zM1264 394h1v2h-1zM821 395h1v4h-1zM1230 395h1v2h-1zM1244 395h1v1h-1zM809 396h1v6h-1zM1242 396h2v1h-2zM1265 396h1v1h-1zM1231 397h11v1h-11zM1266 397h1v2h-1zM820 399h1v5h-1zM1267 399h1v1h-1zM810 402h1v6h-1zM819 404h1v5h-1zM811 408h1v5h-1zM818 409h1v4h-1zM812 413h1v3h-1zM817 413h1v5h-1zM813 416h1v4h-1zM816 418h1v4h-1zM814 420h1v3h-1zM815 422h1v3h-1z" fill="#ffa500"/><path d="M307 85h3v1h-3zM306 86h1v1h-1zM310 86h2v1h-2zM304 87h2v1h-2zM312 87h2v1h-2zM303 88h1v1h-1zM314 88h1v1h-1zM301 89h2v1h-2zM315 89h1v1h-1zM299 90h2v1h-2zM316 90h1v1h-1zM297 91h2v1h-2zM317 91h1v2h-1zM295 92h2v1h-2zM471 92h3v1h-3zM294 93h1v1h-1zM318 93h1v1h-1zM469 93h2v1h-2zM474 93h8v1h-8zM292 94h2v1h-2zM319 94h1v1h-1zM467 94h2v1h-2zM482 94h10v1h-10zM291 95h1v1h-1zM320 95h1v1h-1zM466 95h1v1h-1zM492 95h2v1h-2zM290 96h1v1h-1zM321 96h1v1h-1zM465 96h1v1h-1zM494 96h1v1h-1zM288 97h2v1h-2zM322 97h1v1h-1zM464 97h1v1h-1zM495 97h1v1h-1zM287 98h1v1h-1zM323 98h1v1h-1zM463 98h1v1h-1zM496 98h1v1h-1zM285 99h2v1h-2zM324 99h1v1h-1zM462 99h1v1h-1zM497 99h1v2h-1zM282 100h3v1h-3zM325 100h1v1h-1zM461 100h1v1h-1zM278 101h4v1h-4zM326 101h1v1h-1zM460 101h1v1h-1zM498 101h1v1h-1zM274 102h4v1h-4zM327 102h1v1h-1zM459 102h1v1h-1zM499 102h1v1h-1zM267 103h7v1h-7zM328 103h2v1h-2zM457 103h2v1h-2zM500 103h1v1h-1zM265 104h2v1h-2zM330 104h1v1h-1zM455 104h2v1h-2zM501 104h1v1h-1zM263 105h2v1h-2zM331 105h3v1h-3zM453 105h2v1h-2zM502 105h1v1h-1zM261 106h2v1h-2zM334 106h4v1h-4zM442 106h11v1h-11zM503 106h1v1h-1zM259 107h2v1h-2zM338 107h8v1h-8zM439 107h3v1h-3zM504 107h1v1h-1zM257 108h2v1h-2zM346 108h8v1h-8zM431 108h3v1h-3zM437 108h2v1h-2zM505 108h1v2h-1zM255 109h2v1h-2zM354 109h3v1h-3zM395 109h10v1h-10zM430 109h1v1h-1zM434 109h3v1h-3zM254 110h1v1h-1zM357 110h2v1h-2zM393 110h2v1h-2zM405 110h2v1h-2zM428 110h2v1h-2zM506 110h1v1h-1zM252 111h2v1h-2zM359 111h1v1h-1zM391 111h2v1h-2zM407 111h1v1h-1zM426 111h2v1h-2zM507 111h1v1h-1zM230 112h22v1h-22zM360 112h1v1h-1zM389 112h2v1h-2zM408 112h2v1h-2zM422 112h4v1h-4zM508 112h1v2h-1zM227 113h3v1h-3zM361 113h1v2h-1zM387 113h2v1h-2zM410 113h1v1h-1zM418 113h4v1h-4zM225 114h2v1h-2zM385 114h2v1h-2zM411 114h7v1h-7zM509 114h1v1h-1zM223 115h2v1h-2zM362 115h1v1h-1zM383 115h2v1h-2zM510 115h1v2h-1zM222 116h1v1h-1zM363 116h1v1h-1zM382 116h1v1h-1zM221 117h1v2h-1zM364 117h1v1h-1zM380 117h2v1h-2zM511 117h1v1h-1zM365 118h1v1h-1zM379 118h1v1h-1zM512 118h1v2h-1zM220 119h1v1h-1zM366 119h1v1h-1zM377 119h2v1h-2zM219 120h1v1h-1zM367 120h3v1h-3zM374 120h3v1h-3zM513 120h1v1h-1zM217 121h2v1h-2zM370 121h4v1h-4zM514 121h1v2h-1zM214 122h3v1h-3zM210 123h4v1h-4zM515 123h1v1h-1zM206 124h4v1h-4zM516 124h1v2h-1zM203 125h3v1h-3zM201 126h2v1h-2zM517 126h1v1h-1zM199 127h2v1h-2zM518 127h1v2h-1zM3 128h3v1h-3zM198 128h1v1h-1zM6 129h2v1h-2zM197 129h1v1h-1zM519 129h1v2h-1zM8 130h2v1h-2zM51 130h1v1h-1zM196 130h1v1h-1zM10 131h1v1h-1zM50 131h1v1h-1zM52 131h2v1h-2zM195 131h1v1h-1zM520 131h1v2h-1zM11 132h1v1h-1zM48 132h2v1h-2zM54 132h1v1h-1zM194 132h1v1h-1zM12 133h1v1h-1zM46 133h2v1h-2zM55 133h3v1h-3zM192 133h2v1h-2zM521 133h1v2h-1zM13 134h1v1h-1zM43 134h3v1h-3zM58 134h2v1h-2zM191 134h1v1h-1zM14 135h1v1h-1zM41 135h2v1h-2zM60 135h1v1h-1zM190 135h1v2h-1zM522 135h1v2h-1zM15 136h1v1h-1zM39 136h2v1h-2zM61 136h1v1h-1zM16 137h2v1h-2zM37 137h2v1h-2zM62 137h1v1h-1zM189 137h1v1h-1zM523 137h1v1h-1zM18 138h1v1h-1zM35 138h2v1h-2zM63 138h3v1h-3zM188 138h1v2h-1zM524 138h1v1h-1zM19 139h1v1h-1zM34 139h1v1h-1zM66 139h2v1h-2zM525 139h1v2h-1zM20 140h2v1h-2zM32 140h2v1h-2zM68 140h1v1h-1zM187 140h1v1h-1zM22 141h1v1h-1zM30 141h2v1h-2zM69 141h1v2h-1zM186 141h1v2h-1zM526 141h1v1h-1zM23 142h7v1h-7zM527 142h1v1h-1zM70 143h1v1h-1zM185 143h1v1h-1zM528 143h2v1h-2zM71 144h1v1h-1zM184 144h1v2h-1zM530 144h1v1h-1zM72 145h2v1h-2zM531 145h1v1h-1zM74 146h1v1h-1zM183 146h1v1h-1zM532 146h2v1h-2zM75 147h1v1h-1zM182 147h1v2h-1zM534 147h1v1h-1zM76 148h1v2h-1zM535 148h2v1h-2zM181 149h1v2h-1zM537 149h2v1h-2zM77 150h1v1h-1zM539 150h1v1h-1zM78 151h1v2h-1zM180 151h1v2h-1zM540 151h2v1h-2zM542 152h1v1h-1zM79 153h1v1h-1zM178 153h2v1h-2zM543 153h1v1h-1zM80 154h1v2h-1zM175 154h3v1h-3zM544 154h1v1h-1zM173 155h2v1h-2zM545 155h1v1h-1zM81 156h1v2h-1zM171 156h2v1h-2zM546 156h1v1h-1zM170 157h1v1h-1zM547 157h1v1h-1zM82 158h1v2h-1zM169 158h1v1h-1zM548 158h2v1h-2zM168 159h1v1h-1zM550 159h1v1h-1zM83 160h1v2h-1zM163 160h5v1h-5zM551 160h2v1h-2zM162 161h1v1h-1zM553 161h2v1h-2zM84 162h1v2h-1zM160 162h2v1h-2zM555 162h1v1h-1zM159 163h1v1h-1zM556 163h1v1h-1zM85 164h1v2h-1zM158 164h1v1h-1zM557 164h1v2h-1zM157 165h1v1h-1zM86 166h1v2h-1zM156 166h1v1h-1zM558 166h1v1h-1zM155 167h1v1h-1zM559 167h1v1h-1zM87 168h1v3h-1zM154 168h1v2h-1zM560 168h1v1h-1zM561 169h1v2h-1zM153 170h1v1h-1zM88 171h1v2h-1zM152 171h1v2h-1zM562 171h1v1h-1zM563 172h1v1h-1zM89 173h1v2h-1zM151 173h1v1h-1zM564 173h1v1h-1zM150 174h1v2h-1zM565 174h1v2h-1zM90 175h1v2h-1zM149 176h1v2h-1zM566 176h1v1h-1zM91 177h1v1h-1zM567 177h1v1h-1zM92 178h1v2h-1zM148 178h1v2h-1zM568 178h1v2h-1zM755 178h13v1h-13zM753 179h2v1h-2zM768 179h2v1h-2zM93 180h1v2h-1zM147 180h1v1h-1zM569 180h1v2h-1zM751 180h2v1h-2zM770 180h1v1h-1zM146 181h1v1h-1zM749 181h2v1h-2zM771 181h1v1h-1zM94 182h1v2h-1zM145 182h1v1h-1zM570 182h1v2h-1zM747 182h2v1h-2zM772 182h2v1h-2zM144 183h1v1h-1zM746 183h1v1h-1zM774 183h1v1h-1zM95 184h1v1h-1zM143 184h1v1h-1zM571 184h1v1h-1zM745 184h1v2h-1zM775 184h1v1h-1zM96 185h1v2h-1zM142 185h1v1h-1zM572 185h1v2h-1zM776 185h1v1h-1zM141 186h1v1h-1zM744 186h1v1h-1zM777 186h1v2h-1zM97 187h1v1h-1zM140 187h1v1h-1zM573 187h1v1h-1zM743 187h1v1h-1zM98 188h1v2h-1zM139 188h1v1h-1zM574 188h1v2h-1zM742 188h1v2h-1zM778 188h1v1h-1zM138 189h1v1h-1zM779 189h1v2h-1zM99 190h1v1h-1zM137 190h1v1h-1zM575 190h1v1h-1zM741 190h1v2h-1zM100 191h1v1h-1zM136 191h1v1h-1zM576 191h1v1h-1zM780 191h1v2h-1zM101 192h1v1h-1zM135 192h1v1h-1zM577 192h1v1h-1zM740 192h1v2h-1zM102 193h1v1h-1zM134 193h1v1h-1zM578 193h1v1h-1zM781 193h1v2h-1zM103 194h1v1h-1zM127 194h3v1h-3zM132 194h2v1h-2zM579 194h1v1h-1zM739 194h1v1h-1zM104 195h1v2h-1zM125 195h2v1h-2zM130 195h2v1h-2zM580 195h1v1h-1zM738 195h1v2h-1zM782 195h1v2h-1zM123 196h2v1h-2zM581 196h1v2h-1zM105 197h1v1h-1zM121 197h2v1h-2zM737 197h1v2h-1zM783 197h1v2h-1zM106 198h1v2h-1zM119 198h2v1h-2zM582 198h1v1h-1zM118 199h1v1h-1zM583 199h2v1h-2zM736 199h1v2h-1zM784 199h1v3h-1zM107 200h6v1h-6zM117 200h1v1h-1zM585 200h2v1h-2zM113 201h2v1h-2zM116 201h1v1h-1zM587 201h1v1h-1zM735 201h1v1h-1zM115 202h1v1h-1zM588 202h1v1h-1zM734 202h1v2h-1zM785 202h1v2h-1zM589 203h1v2h-1zM733 204h1v2h-1zM786 204h1v3h-1zM590 205h1v1h-1zM591 206h1v1h-1zM732 206h1v2h-1zM592 207h1v1h-1zM787 207h1v3h-1zM593 208h1v1h-1zM731 208h1v1h-1zM594 209h1v1h-1zM730 209h1v1h-1zM595 210h1v1h-1zM729 210h1v2h-1zM788 210h1v2h-1zM596 211h1v1h-1zM597 212h1v2h-1zM728 212h1v1h-1zM789 212h1v3h-1zM727 213h1v1h-1zM598 214h1v1h-1zM726 214h1v1h-1zM599 215h1v1h-1zM724 215h2v1h-2zM790 215h1v2h-1zM895 215h1v1h-1zM600 216h2v1h-2zM723 216h1v1h-1zM893 216h2v1h-2zM896 216h1v1h-1zM602 217h1v1h-1zM721 217h2v1h-2zM791 217h1v3h-1zM891 217h2v1h-2zM897 217h1v1h-1zM603 218h1v1h-1zM719 218h2v1h-2zM890 218h1v1h-1zM898 218h1v1h-1zM604 219h2v1h-2zM717 219h2v1h-2zM888 219h2v1h-2zM899 219h1v1h-1zM606 220h1v1h-1zM715 220h2v1h-2zM792 220h1v3h-1zM887 220h1v2h-1zM900 220h1v1h-1zM607 221h1v1h-1zM714 221h1v1h-1zM901 221h1v1h-1zM608 222h2v1h-2zM712 222h2v1h-2zM886 222h1v2h-1zM902 222h1v1h-1zM1054 222h4v1h-4zM610 223h1v1h-1zM711 223h1v1h-1zM793 223h1v4h-1zM903 223h1v1h-1zM1051 223h3v1h-3zM1058 223h4v1h-4zM611 224h2v1h-2zM709 224h2v1h-2zM885 224h1v2h-1zM904 224h1v2h-1zM1050 224h1v1h-1zM1062 224h4v1h-4zM613 225h2v1h-2zM707 225h2v1h-2zM1011 225h7v1h-7zM1049 225h1v1h-1zM1066 225h8v1h-8zM615 226h2v1h-2zM706 226h1v1h-1zM884 226h1v2h-1zM905 226h1v2h-1zM987 226h2v1h-2zM1009 226h2v1h-2zM1018 226h4v1h-4zM1048 226h1v1h-1zM1074 226h4v1h-4zM617 227h2v1h-2zM705 227h1v1h-1zM794 227h1v3h-1zM986 227h1v1h-1zM989 227h2v1h-2zM1007 227h2v1h-2zM1022 227h3v1h-3zM1047 227h1v1h-1zM1078 227h2v1h-2zM619 228h2v1h-2zM704 228h1v1h-1zM883 228h1v2h-1zM906 228h1v2h-1zM984 228h2v1h-2zM991 228h1v1h-1zM1006 228h1v1h-1zM1025 228h2v1h-2zM1046 228h1v1h-1zM1080 228h2v1h-2zM621 229h2v1h-2zM703 229h1v1h-1zM983 229h1v1h-1zM992 229h2v1h-2zM1004 229h2v1h-2zM1027 229h2v1h-2zM1045 229h1v1h-1zM1082 229h1v1h-1zM623 230h3v1h-3zM701 230h2v1h-2zM795 230h1v4h-1zM882 230h1v1h-1zM907 230h1v1h-1zM982 230h1v1h-1zM994 230h1v1h-1zM1003 230h1v1h-1zM1029 230h2v1h-2zM1044 230h1v1h-1zM1083 230h1v1h-1zM626 231h8v1h-8zM699 231h2v1h-2zM880 231h2v1h-2zM908 231h1v1h-1zM980 231h2v1h-2zM995 231h3v1h-3zM1001 231h2v1h-2zM1031 231h3v1h-3zM1043 231h1v1h-1zM1084 231h2v1h-2zM634 232h7v1h-7zM698 232h1v1h-1zM879 232h1v1h-1zM909 232h1v1h-1zM979 232h1v1h-1zM998 232h3v1h-3zM1034 232h4v1h-4zM1041 232h2v1h-2zM1086 232h1v1h-1zM641 233h2v1h-2zM646 233h3v1h-3zM696 233h2v1h-2zM877 233h2v1h-2zM910 233h1v1h-1zM978 233h1v1h-1zM1038 233h3v1h-3zM1087 233h1v1h-1zM643 234h3v1h-3zM649 234h2v1h-2zM695 234h1v1h-1zM796 234h1v4h-1zM871 234h6v1h-6zM911 234h1v1h-1zM939 234h5v1h-5zM977 234h1v1h-1zM1088 234h1v1h-1zM651 235h7v1h-7zM670 235h12v1h-12zM693 235h2v1h-2zM870 235h1v2h-1zM912 235h1v2h-1zM937 235h2v1h-2zM944 235h2v1h-2zM976 235h1v1h-1zM1089 235h1v1h-1zM658 236h4v1h-4zM666 236h4v1h-4zM682 236h11v1h-11zM935 236h2v1h-2zM946 236h1v1h-1zM975 236h1v1h-1zM1090 236h1v1h-1zM662 237h4v1h-4zM869 237h1v2h-1zM913 237h1v1h-1zM933 237h2v1h-2zM947 237h1v1h-1zM974 237h1v1h-1zM1091 237h1v1h-1zM797 238h1v5h-1zM914 238h1v2h-1zM931 238h2v1h-2zM948 238h1v1h-1zM973 238h1v1h-1zM1092 238h1v1h-1zM868 239h1v2h-1zM930 239h1v1h-1zM949 239h1v1h-1zM972 239h1v1h-1zM1093 239h1v2h-1zM915 240h1v1h-1zM928 240h2v1h-2zM950 240h1v1h-1zM971 240h1v1h-1zM867 241h1v2h-1zM916 241h1v2h-1zM927 241h1v1h-1zM951 241h2v1h-2zM970 241h1v1h-1zM1094 241h1v1h-1zM926 242h1v1h-1zM953 242h2v1h-2zM968 242h2v1h-2zM1095 242h1v1h-1zM798 243h1v4h-1zM866 243h1v3h-1zM917 243h1v1h-1zM925 243h1v1h-1zM955 243h1v1h-1zM967 243h1v1h-1zM1096 243h1v1h-1zM918 244h1v2h-1zM924 244h1v1h-1zM956 244h2v1h-2zM965 244h2v1h-2zM1097 244h1v1h-1zM922 245h2v1h-2zM958 245h1v1h-1zM962 245h3v1h-3zM1098 245h1v1h-1zM865 246h1v4h-1zM919 246h3v1h-3zM959 246h3v1h-3zM1099 246h1v1h-1zM799 247h1v5h-1zM1100 247h2v1h-2zM1102 248h1v1h-1zM1103 249h1v1h-1zM864 250h1v3h-1zM1104 250h1v2h-1zM800 252h1v4h-1zM1105 252h1v1h-1zM863 253h1v4h-1zM1106 253h1v2h-1zM1107 255h3v1h-3zM801 256h1v5h-1zM1110 256h2v1h-2zM862 257h1v5h-1zM1112 257h2v1h-2zM1114 258h1v1h-1zM1115 259h1v1h-1zM1116 260h1v2h-1zM802 261h1v4h-1zM861 262h1v4h-1zM1117 262h1v1h-1zM1118 263h1v2h-1zM803 265h1v5h-1zM1119 265h1v2h-1zM860 266h1v5h-1zM1120 267h1v2h-1zM1121 269h1v3h-1zM804 270h1v5h-1zM859 271h1v5h-1zM1122 272h1v2h-1zM1123 274h1v3h-1zM805 275h1v4h-1zM858 276h1v4h-1zM1124 277h1v2h-1zM806 279h1v5h-1zM1125 279h1v3h-1zM857 280h1v5h-1zM1126 282h1v2h-1zM807 284h1v5h-1zM1127 284h1v3h-1zM856 285h1v4h-1zM1128 287h1v3h-1zM808 289h1v4h-1zM855 289h1v5h-1zM1129 290h1v3h-1zM809 293h1v5h-1zM1130 293h1v3h-1zM854 294h1v4h-1zM1131 296h1v2h-1zM810 298h1v4h-1zM853 298h1v4h-1zM1132 298h1v2h-1zM1133 300h1v2h-1zM811 302h1v5h-1zM852 302h1v4h-1zM1134 302h1v2h-1zM1135 304h1v1h-1zM1136 305h1v1h-1zM851 306h1v4h-1zM1137 306h1v1h-1zM812 307h1v4h-1zM1138 307h1v1h-1zM1139 308h1v1h-1zM1140 309h1v1h-1zM850 310h1v4h-1zM1141 310h1v1h-1zM813 311h1v4h-1zM1142 311h1v1h-1zM1143 312h1v1h-1zM1144 313h1v1h-1zM849 314h1v4h-1zM1145 314h1v2h-1zM814 315h1v4h-1zM1146 316h1v1h-1zM1147 317h1v1h-1zM848 318h1v4h-1zM1148 318h1v1h-1zM815 319h1v3h-1zM1149 319h1v1h-1zM1150 320h1v1h-1zM1151 321h1v1h-1zM816 322h1v2h-1zM847 322h1v4h-1zM1152 322h1v1h-1zM1153 323h1v2h-1zM817 324h1v2h-1zM1154 325h1v1h-1zM818 326h1v2h-1zM846 326h1v3h-1zM1155 326h1v1h-1zM1156 327h2v1h-2zM819 328h1v3h-1zM1158 328h1v1h-1zM845 329h1v3h-1zM1159 329h2v1h-2zM1161 330h2v1h-2zM820 331h1v2h-1zM1163 331h1v1h-1zM844 332h1v3h-1zM1164 332h1v2h-1zM821 333h1v2h-1zM1165 334h1v1h-1zM822 335h1v2h-1zM843 335h1v3h-1zM1166 335h1v2h-1zM823 337h1v2h-1zM1167 337h1v1h-1zM842 338h1v3h-1zM1168 338h1v2h-1zM824 339h1v2h-1zM1169 340h1v2h-1zM825 341h1v1h-1zM841 341h1v3h-1zM826 342h1v2h-1zM1170 342h1v2h-1zM1187 343h3v1h-3zM827 344h1v2h-1zM840 344h1v3h-1zM1171 344h1v1h-1zM1186 344h1v1h-1zM1190 344h2v1h-2zM1172 345h1v1h-1zM1185 345h1v1h-1zM1192 345h2v1h-2zM828 346h1v2h-1zM1173 346h1v1h-1zM1184 346h1v1h-1zM1194 346h1v1h-1zM839 347h1v2h-1zM1174 347h1v1h-1zM1182 347h2v1h-2zM1195 347h2v1h-2zM829 348h1v2h-1zM1175 348h7v1h-7zM1197 348h2v1h-2zM838 349h1v1h-1zM1199 349h3v1h-3zM830 350h1v2h-1zM837 350h1v2h-1zM1202 350h2v1h-2zM1204 351h2v1h-2zM831 352h3v1h-3zM836 352h1v1h-1zM1206 352h1v1h-1zM834 353h2v1h-2zM1207 353h2v1h-2zM1209 354h2v1h-2zM1211 355h1v1h-1zM1212 356h1v1h-1zM1213 357h1v1h-1zM1214 358h1v1h-1zM1215 359h1v1h-1zM1216 360h1v1h-1zM1217 361h1v1h-1zM1218 362h1v1h-1zM1219 363h1v1h-1zM1220 364h1v1h-1zM1221 365h1v1h-1zM1222 366h1v1h-1zM1223 367h2v1h-2zM1225 368h2v1h-2zM1227 369h1v1h-1zM1228 370h2v1h-2zM1230 371h1v1h-1zM1231 372h1v1h-1zM1232 373h2v1h-2zM1234 374h1v1h-1zM1235 375h2v1h-2zM1237 376h2v1h-2zM1239 377h1v1h-1zM1240 378h1v1h-1zM1241 379h1v1h-1zM1242 380h1v1h-1zM1243 381h1v1h-1zM1244 382h2v1h-2zM1246 383h1v1h-1zM1247 384h3v1h-3zM1250 385h2v1h-2zM1252 386h2v1h-2zM1254 387h1v1h-1zM1255 388h2v1h-2zM1257 389h2v1h-2zM1259 390h1v1h-1zM1260 391h2v1h-2zM1262 392h1v1h-1zM1263 393h1v1h-1zM1264 394h2v1h-2zM1266 395h1v1h-1zM1267 396h1v1h-1z" fill="#ff0000"/><path d="M307 99h11v1h-11zM305 100h2v1h-2zM318 100h4v1h-4zM355 100h7v1h-7zM302 101h3v1h-3zM322 101h4v1h-4zM353 101h2v1h-2zM362 101h3v1h-3zM299 102h3v1h-3zM326 102h4v1h-4zM350 102h3v1h-3zM365 102h2v1h-2zM297 103h2v1h-2zM330 103h4v1h-4zM342 103h8v1h-8zM367 103h3v1h-3zM466 103h7v1h-7zM490 103h8v1h-8zM295 104h2v1h-2zM334 104h8v1h-8zM370 104h3v1h-3zM462 104h4v1h-4zM473 104h2v1h-2zM486 104h4v1h-4zM498 104h4v1h-4zM293 105h2v1h-2zM373 105h2v1h-2zM458 105h4v1h-4zM475 105h11v1h-11zM502 105h4v1h-4zM290 106h3v1h-3zM375 106h7v1h-7zM454 106h4v1h-4zM506 106h2v1h-2zM287 107h3v1h-3zM382 107h24v1h-24zM451 107h3v1h-3zM508 107h2v1h-2zM286 108h1v1h-1zM406 108h4v1h-4zM449 108h2v1h-2zM510 108h1v1h-1zM284 109h2v1h-2zM410 109h3v1h-3zM447 109h2v1h-2zM511 109h2v1h-2zM282 110h2v1h-2zM413 110h2v1h-2zM445 110h2v1h-2zM513 110h2v1h-2zM278 111h4v1h-4zM415 111h3v1h-3zM443 111h2v1h-2zM515 111h2v1h-2zM271 112h7v1h-7zM418 112h3v1h-3zM441 112h2v1h-2zM517 112h2v1h-2zM269 113h2v1h-2zM421 113h2v1h-2zM439 113h2v1h-2zM519 113h1v1h-1zM267 114h2v1h-2zM423 114h3v1h-3zM437 114h2v1h-2zM520 114h2v1h-2zM265 115h2v1h-2zM426 115h4v1h-4zM434 115h3v1h-3zM522 115h1v1h-1zM263 116h2v1h-2zM430 116h4v1h-4zM523 116h3v1h-3zM262 117h1v1h-1zM526 117h3v1h-3zM260 118h2v1h-2zM529 118h2v1h-2zM259 119h1v1h-1zM531 119h2v1h-2zM257 120h2v1h-2zM533 120h2v1h-2zM255 121h2v1h-2zM535 121h3v1h-3zM254 122h1v1h-1zM538 122h4v1h-4zM253 123h1v1h-1zM542 123h3v1h-3zM252 124h1v1h-1zM545 124h2v1h-2zM251 125h1v1h-1zM547 125h2v1h-2zM250 126h1v1h-1zM549 126h2v1h-2zM248 127h2v1h-2zM551 127h2v1h-2zM247 128h1v1h-1zM553 128h2v1h-2zM246 129h1v1h-1zM555 129h1v1h-1zM244 130h2v1h-2zM556 130h1v1h-1zM243 131h1v1h-1zM557 131h1v1h-1zM58 132h3v1h-3zM241 132h2v1h-2zM558 132h1v1h-1zM54 133h4v1h-4zM61 133h2v1h-2zM238 133h3v1h-3zM559 133h1v1h-1zM51 134h3v1h-3zM63 134h3v1h-3zM235 134h3v1h-3zM560 134h1v1h-1zM50 135h1v1h-1zM66 135h2v1h-2zM233 135h2v1h-2zM561 135h1v1h-1zM48 136h2v1h-2zM68 136h2v1h-2zM231 136h2v1h-2zM562 136h1v1h-1zM47 137h1v1h-1zM70 137h1v1h-1zM229 137h2v1h-2zM563 137h1v1h-1zM46 138h1v1h-1zM71 138h1v1h-1zM227 138h2v1h-2zM564 138h1v1h-1zM44 139h2v1h-2zM72 139h2v1h-2zM225 139h2v1h-2zM565 139h1v2h-1zM3 140h1v1h-1zM43 140h1v1h-1zM74 140h1v1h-1zM223 140h2v1h-2zM4 141h1v1h-1zM42 141h1v1h-1zM75 141h1v1h-1zM221 141h2v1h-2zM566 141h1v1h-1zM5 142h1v1h-1zM41 142h1v1h-1zM76 142h1v1h-1zM219 142h2v1h-2zM567 142h1v1h-1zM6 143h1v1h-1zM40 143h1v1h-1zM77 143h1v1h-1zM218 143h1v1h-1zM568 143h1v2h-1zM7 144h1v1h-1zM39 144h1v1h-1zM78 144h1v1h-1zM216 144h2v1h-2zM8 145h1v1h-1zM38 145h1v1h-1zM79 145h1v1h-1zM215 145h1v1h-1zM569 145h1v1h-1zM9 146h1v1h-1zM36 146h2v1h-2zM80 146h2v1h-2zM214 146h1v1h-1zM570 146h1v2h-1zM10 147h1v1h-1zM35 147h1v1h-1zM82 147h1v1h-1zM213 147h1v1h-1zM11 148h1v1h-1zM34 148h1v1h-1zM83 148h1v1h-1zM212 148h1v1h-1zM571 148h1v1h-1zM12 149h2v1h-2zM32 149h2v1h-2zM84 149h1v1h-1zM211 149h1v1h-1zM572 149h1v1h-1zM14 150h1v1h-1zM31 150h1v1h-1zM85 150h1v1h-1zM210 150h1v1h-1zM573 150h1v2h-1zM15 151h3v1h-3zM29 151h2v1h-2zM86 151h1v1h-1zM209 151h1v1h-1zM18 152h4v1h-4zM26 152h3v1h-3zM87 152h1v1h-1zM208 152h1v1h-1zM574 152h1v1h-1zM22 153h4v1h-4zM88 153h1v1h-1zM207 153h1v1h-1zM575 153h1v1h-1zM89 154h1v1h-1zM206 154h1v1h-1zM576 154h1v2h-1zM90 155h1v1h-1zM205 155h1v1h-1zM91 156h1v1h-1zM204 156h1v1h-1zM577 156h1v1h-1zM92 157h2v1h-2zM203 157h1v1h-1zM578 157h1v2h-1zM94 158h1v1h-1zM202 158h1v1h-1zM95 159h2v1h-2zM200 159h2v1h-2zM579 159h1v1h-1zM97 160h2v1h-2zM199 160h1v1h-1zM580 160h1v1h-1zM99 161h3v1h-3zM198 161h1v1h-1zM581 161h1v2h-1zM102 162h4v1h-4zM197 162h1v1h-1zM106 163h4v1h-4zM196 163h1v1h-1zM582 163h1v1h-1zM110 164h3v1h-3zM195 164h1v1h-1zM583 164h1v1h-1zM113 165h2v1h-2zM193 165h2v1h-2zM584 165h1v1h-1zM115 166h3v1h-3zM191 166h2v1h-2zM585 166h1v2h-1zM118 167h7v1h-7zM190 167h1v1h-1zM125 168h2v1h-2zM189 168h1v1h-1zM586 168h1v1h-1zM127 169h3v1h-3zM188 169h1v1h-1zM587 169h1v1h-1zM130 170h4v1h-4zM187 170h1v1h-1zM588 170h1v1h-1zM134 171h8v1h-8zM186 171h1v1h-1zM589 171h1v2h-1zM142 172h4v1h-4zM184 172h2v1h-2zM146 173h4v1h-4zM183 173h1v1h-1zM590 173h1v1h-1zM150 174h8v1h-8zM182 174h1v1h-1zM591 174h1v1h-1zM158 175h7v1h-7zM180 175h2v1h-2zM592 175h2v1h-2zM165 176h2v1h-2zM178 176h2v1h-2zM594 176h1v1h-1zM167 177h3v1h-3zM174 177h4v1h-4zM595 177h1v1h-1zM170 178h4v1h-4zM596 178h2v1h-2zM598 179h1v1h-1zM599 180h1v1h-1zM600 181h2v1h-2zM602 182h1v1h-1zM603 183h1v1h-1zM604 184h2v1h-2zM606 185h1v1h-1zM607 186h1v1h-1zM608 187h2v1h-2zM610 188h1v1h-1zM611 189h1v1h-1zM612 190h1v1h-1zM613 191h1v1h-1zM614 192h1v1h-1zM615 193h1v1h-1zM616 194h2v1h-2zM618 195h1v1h-1zM619 196h1v1h-1zM620 197h1v1h-1zM621 198h1v1h-1zM622 199h1v1h-1zM623 200h1v1h-1zM624 201h1v1h-1zM625 202h1v1h-1zM770 202h4v1h-4zM626 203h1v1h-1zM766 203h4v1h-4zM774 203h4v1h-4zM627 204h1v1h-1zM762 204h4v1h-4zM778 204h4v1h-4zM628 205h2v1h-2zM759 205h3v1h-3zM782 205h2v1h-2zM630 206h1v1h-1zM757 206h2v1h-2zM784 206h1v1h-1zM631 207h1v1h-1zM755 207h2v1h-2zM785 207h1v1h-1zM632 208h2v1h-2zM753 208h2v1h-2zM786 208h1v1h-1zM634 209h1v1h-1zM751 209h2v1h-2zM787 209h1v1h-1zM635 210h2v1h-2zM749 210h2v1h-2zM788 210h2v1h-2zM637 211h2v1h-2zM747 211h2v1h-2zM790 211h1v1h-1zM639 212h1v1h-1zM746 212h1v1h-1zM791 212h1v1h-1zM640 213h2v1h-2zM744 213h2v1h-2zM792 213h1v1h-1zM642 214h1v1h-1zM743 214h1v1h-1zM793 214h1v1h-1zM643 215h2v1h-2zM742 215h1v1h-1zM794 215h1v1h-1zM645 216h2v1h-2zM741 216h1v1h-1zM795 216h1v1h-1zM647 217h2v1h-2zM740 217h1v1h-1zM796 217h1v1h-1zM649 218h2v1h-2zM739 218h1v1h-1zM797 218h1v2h-1zM651 219h2v1h-2zM737 219h2v1h-2zM653 220h2v1h-2zM735 220h2v1h-2zM798 220h1v1h-1zM655 221h2v1h-2zM733 221h2v1h-2zM799 221h1v1h-1zM657 222h2v1h-2zM731 222h2v1h-2zM800 222h1v1h-1zM659 223h2v1h-2zM729 223h2v1h-2zM801 223h1v2h-1zM661 224h2v1h-2zM726 224h3v1h-3zM663 225h3v1h-3zM722 225h4v1h-4zM802 225h1v1h-1zM1070 225h4v1h-4zM666 226h4v1h-4zM718 226h4v1h-4zM803 226h1v1h-1zM1066 226h4v1h-4zM1074 226h7v1h-7zM670 227h2v1h-2zM714 227h4v1h-4zM804 227h1v2h-1zM1062 227h4v1h-4zM1081 227h2v1h-2zM672 228h2v1h-2zM711 228h3v1h-3zM954 228h7v1h-7zM1051 228h11v1h-11zM1083 228h2v1h-2zM674 229h1v1h-1zM709 229h2v1h-2zM805 229h1v1h-1zM951 229h3v1h-3zM961 229h2v1h-2zM1049 229h2v1h-2zM1085 229h2v1h-2zM675 230h2v1h-2zM706 230h3v1h-3zM806 230h1v2h-1zM950 230h1v1h-1zM963 230h2v1h-2zM1046 230h3v1h-3zM1087 230h1v1h-1zM677 231h2v1h-2zM702 231h4v1h-4zM948 231h2v1h-2zM965 231h2v1h-2zM1010 231h3v1h-3zM1042 231h4v1h-4zM1088 231h2v1h-2zM679 232h2v1h-2zM698 232h4v1h-4zM807 232h1v1h-1zM947 232h1v1h-1zM967 232h1v1h-1zM1006 232h4v1h-4zM1013 232h2v1h-2zM1039 232h3v1h-3zM1090 232h1v1h-1zM681 233h2v1h-2zM694 233h4v1h-4zM808 233h1v2h-1zM946 233h1v1h-1zM968 233h2v1h-2zM1003 233h3v1h-3zM1015 233h3v1h-3zM1037 233h2v1h-2zM1091 233h2v1h-2zM683 234h11v1h-11zM944 234h2v1h-2zM970 234h1v1h-1zM1001 234h2v1h-2zM1018 234h4v1h-4zM1034 234h3v1h-3zM1093 234h2v1h-2zM809 235h1v2h-1zM943 235h1v1h-1zM971 235h3v1h-3zM995 235h6v1h-6zM1022 235h12v1h-12zM1095 235h2v1h-2zM941 236h2v1h-2zM974 236h4v1h-4zM993 236h2v1h-2zM1097 236h2v1h-2zM810 237h1v2h-1zM939 237h2v1h-2zM978 237h4v1h-4zM990 237h3v1h-3zM1099 237h1v1h-1zM938 238h1v1h-1zM982 238h8v1h-8zM1100 238h2v1h-2zM811 239h1v1h-1zM936 239h2v1h-2zM1102 239h1v1h-1zM812 240h1v2h-1zM935 240h1v1h-1zM1103 240h2v1h-2zM934 241h1v1h-1zM1105 241h2v1h-2zM1110 241h7v1h-7zM813 242h1v1h-1zM933 242h1v2h-1zM1107 242h3v1h-3zM1117 242h2v1h-2zM814 243h1v2h-1zM1119 243h1v1h-1zM932 244h1v1h-1zM1120 244h1v1h-1zM815 245h1v1h-1zM931 245h1v1h-1zM1121 245h1v1h-1zM816 246h1v1h-1zM930 246h1v1h-1zM1122 246h1v1h-1zM817 247h1v1h-1zM929 247h1v2h-1zM1123 247h1v1h-1zM818 248h1v1h-1zM1124 248h1v1h-1zM819 249h1v1h-1zM928 249h1v1h-1zM1125 249h1v2h-1zM820 250h1v1h-1zM927 250h1v1h-1zM821 251h1v1h-1zM926 251h1v2h-1zM1126 251h1v1h-1zM822 252h1v1h-1zM1127 252h1v1h-1zM823 253h1v1h-1zM925 253h1v2h-1zM1128 253h1v2h-1zM824 254h1v1h-1zM825 255h1v2h-1zM924 255h1v2h-1zM1129 255h1v2h-1zM826 257h1v1h-1zM923 257h1v1h-1zM1130 257h1v2h-1zM827 258h1v1h-1zM922 258h1v1h-1zM828 259h1v1h-1zM921 259h1v2h-1zM1131 259h1v1h-1zM829 260h1v2h-1zM1132 260h1v1h-1zM920 261h1v1h-1zM1133 261h1v1h-1zM830 262h1v1h-1zM854 262h4v1h-4zM919 262h1v1h-1zM1134 262h1v1h-1zM831 263h2v1h-2zM850 263h4v1h-4zM858 263h6v1h-6zM918 263h1v1h-1zM1135 263h1v1h-1zM833 264h2v1h-2zM846 264h4v1h-4zM864 264h1v1h-1zM917 264h1v2h-1zM1136 264h2v1h-2zM835 265h3v1h-3zM842 265h4v1h-4zM865 265h1v1h-1zM1138 265h1v1h-1zM838 266h4v1h-4zM866 266h1v1h-1zM916 266h1v1h-1zM1139 266h1v1h-1zM867 267h1v1h-1zM915 267h1v1h-1zM1140 267h1v1h-1zM868 268h1v1h-1zM914 268h1v1h-1zM1141 268h1v1h-1zM869 269h1v1h-1zM912 269h2v1h-2zM1142 269h1v1h-1zM870 270h1v1h-1zM911 270h1v1h-1zM1143 270h1v1h-1zM871 271h1v1h-1zM910 271h1v1h-1zM1144 271h2v1h-2zM872 272h1v1h-1zM908 272h2v1h-2zM1146 272h1v1h-1zM873 273h1v2h-1zM907 273h1v1h-1zM1147 273h1v1h-1zM906 274h1v1h-1zM1148 274h1v1h-1zM874 275h1v1h-1zM904 275h2v1h-2zM1149 275h1v1h-1zM875 276h1v1h-1zM903 276h1v1h-1zM1150 276h1v1h-1zM876 277h2v1h-2zM902 277h1v1h-1zM1151 277h1v1h-1zM878 278h1v1h-1zM900 278h2v1h-2zM1152 278h1v1h-1zM879 279h2v1h-2zM899 279h1v1h-1zM1153 279h1v1h-1zM881 280h2v1h-2zM897 280h2v1h-2zM1154 280h1v1h-1zM883 281h2v1h-2zM894 281h3v1h-3zM1155 281h1v1h-1zM885 282h2v1h-2zM890 282h4v1h-4zM1156 282h1v1h-1zM887 283h3v1h-3zM1157 283h1v1h-1zM1158 284h1v1h-1zM1159 285h1v1h-1zM1160 286h1v1h-1zM1161 287h1v1h-1zM1162 288h1v1h-1zM1163 289h1v1h-1zM1164 290h1v1h-1zM1165 291h1v1h-1zM1166 292h1v1h-1zM1167 293h1v1h-1zM1168 294h1v1h-1zM1169 295h1v2h-1zM1170 297h1v1h-1zM1171 298h1v1h-1zM1172 299h2v1h-2zM1174 300h1v1h-1zM1175 301h1v1h-1zM1176 302h1v1h-1zM1177 303h1v1h-1zM1178 304h1v1h-1zM1179 305h1v1h-1zM1180 306h1v1h-1zM1181 307h1v2h-1zM1182 309h1v1h-1zM1183 310h1v1h-1zM1184 311h1v1h-1zM1185 312h1v1h-1zM1186 313h1v1h-1zM1187 314h1v1h-1zM1188 315h1v1h-1zM1189 316h1v1h-1zM1190 317h1v1h-1zM1191 318h1v1h-1zM1192 319h1v1h-1zM1193 320h1v1h-1zM1194 321h1v1h-1zM1195 322h1v1h-1zM1196 323h1v1h-1zM1197 324h1v1h-1zM1198 325h1v1h-1zM1199 326h1v1h-1zM1200 327h1v1h-1zM1201 328h1v1h-1zM1202 329h1v1h-1zM1203 330h1v1h-1zM1204 331h2v1h-2zM1206 332h1v1h-1zM1207 333h1v1h-1zM1208 334h2v1h-2zM1210 335h1v1h-1zM1211 336h1v1h-1zM1212 337h1v1h-1zM1213 338h1v1h-1zM1214 339h1v1h-1zM1215 340h1v1h-1zM1216 341h1v1h-1zM1217 342h1v1h-1zM1218 343h1v1h-1zM1219 344h1v1h-1zM1220 345h1v1h-1zM1221 346h1v1h-1zM1222 347h1v1h-1zM1223 348h1v1h-1zM1224 349h2v1h-2zM1226 350h1v1h-1zM1227 351h1v1h-1zM1228 352h1v1h-1zM1229 353h1v1h-1zM1230 354h1v1h-1zM1231 355h1v1h-1zM1232 356h1v1h-1zM1233 357h1v1h-1zM1234 358h1v1h-1zM1235 359h1v1h-1zM1236 360h2v1h-2zM1238 361h1v1h-1zM1239 362h2v1h-2zM1241 363h2v1h-2zM1250 363h2v1h-2zM1243 364h7v1h-7zM1252 364h2v1h-2zM1254 365h1v1h-1zM1255 366h2v1h-2zM1257 367h2v1h-2zM1259 368h1v1h-1zM1260 369h2v1h-2zM1262 370h1v1h-1zM1263 371h2v1h-2zM1265 372h2v1h-2zM1267 373h1v1h-1z" fill="#0000cd"/><path d="M4 560h3v1h-3zM10 560h3v1h-3zM16 560h3v1h-3zM22 560h3v1h-3zM28 560h3v1h-3zM34 560h3v1h-3zM40 560h3v1h-3zM46 560h3v1h-3zM52 560h3v1h-3zM58 560h3v1h-3zM64 560h3v1h-3zM70 560h3v1h-3zM76 560h3v1h-3zM82 560h3v1h-3zM88 560h3v1h-3zM94 560h3v1h-3zM100 560h3v1h-3zM106 560h3v1h-3zM112 560h3v1h-3zM118 560h3v1h-3zM124 560h3v1h-3zM130 560h3v1h-3zM136 560h3v1h-3zM142 560h3v1h-3zM148 560h3v1h-3zM154 560h3v1h-3zM160 560h3v1h-3zM166 560h3v1h-3zM172 560h3v1h-3zM178 560h3v1h-3zM184 560h3v1h-3zM190 560h3v1h-3zM196 560h3v1h-3zM202 560h3v1h-3zM208 560h3v1h-3zM214 560h3v1h-3zM220 560h3v1h-3zM226 560h3v1h-3zM232 560h3v1h-3zM238 560h3v1h-3zM244 560h3v1h-3zM250 560h3v1h-3zM256 560h3v1h-3zM262 560h3v1h-3zM268 560h3v1h-3zM274 560h3v1h-3zM280 560h3v1h-3zM286 560h3v1h-3zM292 560h3v1h-3zM298 560h3v1h-3zM304 560h3v1h-3zM310 560h3v1h-3zM316 560h3v1h-3zM322 560h3v1h-3zM328 560h3v1h-3zM334 560h3v1h-3zM340 560h3v1h-3zM346 560h3v1h-3zM352 560h3v1h-3zM358 560h3v1h-3zM364 560h3v1h-3zM370 560h3v1h-3zM376 560h3v1h-3zM382 560h3v1h-3zM388 560h3v1h-3zM394 560h3v1h-3zM400 560h3v1h-3zM406 560h3v1h-3zM412 560h3v1h-3zM418 560h3v1h-3zM424 560h3v1h-3zM430 560h3v1h-3zM436 560h3v1h-3zM442 560h3v1h-3zM448 560h3v1h-3zM454 560h3v1h-3zM460 560h3v1h-3zM466 560h3v1h-3zM472 560h3v1h-3zM478 560h3v1h-3zM484 560h3v1h-3zM490 560h3v1h-3zM496 560h3v1h-3zM502 560h3v1h-3zM508 560h3v1h-3zM514 560h3v1h-3zM520 560h3v1h-3zM526 560h3v1h-3zM532 560h3v1h-3zM538 560h3v1h-3zM544 560h3v1h-3zM550 560h3v1h-3zM556 560h3v1h-3zM562 560h3v1h-3zM568 560h3v1h-3zM574 560h3v1h-3zM580 560h3v1h-3zM586 560h3v1h-3zM592 560h3v1h-3zM598 560h3v1h-3zM604 560h3v1h-3zM610 560h3v1h-3zM616 560h3v1h-3zM622 560h3v1h-3zM628 560h3v1h-3zM634 560h3v1h-3zM640 560h3v1h-3zM646 560h3v1h-3zM652 560h3v1h-3zM658 560h3v1h-3zM664 560h3v1h-3zM670 560h3v1h-3zM676 560h3v1h-3zM682 560h3v1h-3zM688 560h3v1h-3zM694 560h3v1h-3zM700 560h3v1h-3zM706 560h3v1h-3zM712 560h3v1h-3zM718 560h3v1h-3zM724 560h3v1h-3zM730 560h3v1h-3zM736 560h3v1h-3zM742 560h3v1h-3zM748 560h3v1h-3zM754 560h3v1h-3zM760 560h3v1h-3zM766 560h3v1h-3zM772 560h3v1h-3zM778 560h3v1h-3zM784 560h3v1h-3zM790 560h3v1h-3zM796 560h3v1h-3zM802 560h3v1h-3zM808 560h3v1h-3zM814 560h3v1h-3zM820 560h3v1h-3zM826 560h3v1h-3zM832 560h3v1h-3zM838 560h3v1h-3zM844 560h3v1h-3zM850 560h3v1h-3zM856 560h3v1h-3zM862 560h3v1h-3zM868 560h3v1h-3zM874 560h3v1h-3zM880 560h3v1h-3zM886 560h3v1h-3zM892 560h3v1h-3zM898 560h3v1h-3zM904 560h3v1h-3zM910 560h3v1h-3zM916 560h3v1h-3zM922 560h3v1h-3zM928 560h3v1h-3zM934 560h3v1h-3zM940 560h3v1h-3zM946 560h3v1h-3zM952 560h3v1h-3zM958 560h3v1h-3zM964 560h3v1h-3zM970 560h3v1h-3zM976 560h3v1h-3zM982 560h3v1h-3zM988 560h3v1h-3zM994 560h3v1h-3zM1000 560h3v1h-3zM1006 560h3v1h-3zM1012 560h3v1h-3zM1018 560h3v1h-3zM1024 560h3v1h-3zM1030 560h3v1h-3zM1036 560h3v1h-3zM1042 560h3v1h-3zM1048 560h3v1h-3zM1054 560h3v1h-3zM1060 560h3v1h-3zM1066 560h3v1h-3zM1072 560h3v1h-3zM1078 560h3v1h-3zM1084 560h3v1h-3zM1090 560h3v1h-3zM1096 560h3v1h-3zM1102 560h3v1h-3zM1108 560h3v1h-3zM1114 560h3v1h-3zM1120 560h3v1h-3zM1126 560h3v1h-3zM1132 560h3v1h-3zM1138 560h3v1h-3zM1144 560h3v1h-3zM1150 560h3v1h-3zM1156 560h3v1h-3zM1162 560h3v1h-3zM1168 560h3v1h-3zM1174 560h3v1h-3zM1180 560h3v1h-3zM1186 560h3v1h-3zM1192 560h3v1h-3zM1198 560h3v1h-3zM1204 560h3v1h-3zM1210 560h3v1h-3zM1216 560h3v1h-3zM1222 560h3v1h-3zM1228 560h3v1h-3zM1234 560h3v1h-3zM1240 560h3v1h-3zM1246 560h3v1h-3zM1252 560h3v1h-3zM1258 560h3v1h-3zM1264 560h3v1h-3zM1270 560h3v1h-3zM1276 560h3v1h-3zM1282 560h3v1h-3zM1288 560h3v1h-3zM1294 560h3v1h-3zM1300 560h3v1h-3zM1306 560h3v1h-3zM1312 560h3v1h-3zM1318 560h3v1h-3zM1324 560h3v1h-3zM1330 560h3v1h-3zM1336 560h3v1h-3zM1342 560h3v1h-3zM1348 560h3v1h-3zM1354 560h3v1h-3zM1360 560h3v1h-3zM1366 560h3v1h-3zM1372 560h3v1h-3zM1378 560h3v1h-3zM1384 560h3v1h-3zM1390 560h3v1h-3zM1396 560h3v1h-3zM1402 560h3v1h-3zM1408 560h3v1h-3zM1414 560h3v1h-3zM1420 560h3v1h-3zM1426 560h3v1h-3zM1432 560h3v1h-3zM1438 560h3v1h-3zM1444 560h3v1h-3zM1450 560h3v1h-3zM1456 560h3v1h-3zM1462 560h3v1h-3zM1468 560h3v1h-3zM1474 560h3v1h-3zM1480 560h3v1h-3zM1486 560h3v1h-3zM1492 560h3v1h-3zM1498 560h3v1h-3zM1504 560h3v1h-3zM1510 560h3v1h-3zM1516 560h3v1h-3zM1522 560h3v1h-3zM1528 560h3v1h-3zM1534 560h3v1h-3zM1540 560h3v1h-3zM1546 560h3v1h-3zM1552 560h3v1h-3zM1558 560h3v1h-3zM1564 560h3v1h-3zM1570 560h3v1h-3zM1576 560h3v1h-3zM1582 560h3v1h-3zM1588 560h3v1h-3zM1594 560h1v1h-1zM4 596h3v1h-3zM10 596h3v1h-3zM16 596h3v1h-3zM22 596h3v1h-3zM28 596h3v1h-3zM34 596h3v1h-3zM40 596h3v1h-3zM46 596h3v1h-3zM52 596h3v1h-3zM58 596h3v1h-3zM64 596h3v1h-3zM70 596h3v1h-3zM76 596h3v1h-3zM82 596h3v1h-3zM88 596h3v1h-3zM94 596h3v1h-3zM100 596h3v1h-3zM106 596h3v1h-3zM112 596h3v1h-3zM118 596h3v1h-3zM124 596h3v1h-3zM130 596h3v1h-3zM136 596h3v1h-3zM142 596h3v1h-3zM148 596h3v1h-3zM154 596h3v1h-3zM160 596h3v1h-3zM166 596h3v1h-3zM172 596h3v1h-3zM178 596h3v1h-3zM184 596h3v1h-3zM190 596h3v1h-3zM196 596h3v1h-3zM202 596h3v1h-3zM208 596h3v1h-3zM214 596h3v1h-3zM220 596h3v1h-3zM226 596h3v1h-3zM232 596h3v1h-3zM238 596h3v1h-3zM244 596h3v1h-3zM250 596h3v1h-3zM256 596h3v1h-3zM262 596h3v1h-3zM268 596h3v1h-3zM274 596h3v1h-3zM280 596h3v1h-3zM286 596h3v1h-3zM292 596h3v1h-3zM298 596h3v1h-3zM304 596h3v1h-3zM310 596h3v1h-3zM316 596h3v1h-3zM322 596h3v1h-3zM328 596h3v1h-3zM334 596h3v1h-3zM340 596h3v1h-3zM346 596h3v1h-3zM352 596h3v1h-3zM358 596h3v1h-3zM364 596h3v1h-3zM370 596h3v1h-3zM376 596h3v1h-3zM382 596h3v1h-3zM388 596h3v1h-3zM394 596h3v1h-3zM400 596h3v1h-3zM406 596h3v1h-3zM412 596h3v1h-3zM418 596h3v1h-3zM424 596h3v1h-3zM430 596h3v1h-3zM436 596h3v1h-3zM442 596h3v1h-3zM448 596h3v1h-3zM454 596h3v1h-3zM460 596h3v1h-3zM466 596h3v1h-3zM472 596h3v1h-3zM478 596h3v1h-3zM484 596h3v1h-3zM490 596h3v1h-3zM496 596h3v1h-3zM502 596h3v1h-3zM508 596h3v1h-3zM514 596h3v1h-3zM520 596h3v1h-3zM526 596h3v1h-3zM532 596h3v1h-3zM538 596h3v1h-3zM544 596h3v1h-3zM550 596h3v1h-3zM556 596h3v1h-3zM562 596h3v1h-3zM568 596h3v1h-3zM574 596h3v1h-3zM580 596h3v1h-3zM586 596h3v1h-3zM592 596h3v1h-3zM598 596h3v1h-3zM604 596h3v1h-3zM610 596h3v1h-3zM616 596h3v1h-3zM622 596h3v1h-3zM628 596h3v1h-3zM634 596h3v1h-3zM640 596h3v1h-3zM646 596h3v1h-3zM652 596h3v1h-3zM658 596h3v1h-3zM664 596h3v1h-3zM670 596h3v1h-3zM676 596h3v1h-3zM682 596h3v1h-3zM688 596h3v1h-3zM694 596h3v1h-3zM700 596h3v1h-3zM706 596h3v1h-3zM712 596h3v1h-3zM718 596h3v1h-3zM724 596h3v1h-3zM730 596h3v1h-3zM736 596h3v1h-3zM742 596h3v1h-3zM748 596h3v1h-3zM754 596h3v1h-3zM760 596h3v1h-3zM766 596h3v1h-3zM772 596h3v1h-3zM778 596h3v1h-3zM784 596h3v1h-3zM790 596h3v1h-3zM796 596h3v1h-3zM802 596h3v1h-3zM808 596h3v1h-3zM814 596h3v1h-3zM820 596h3v1h-3zM826 596h3v1h-3zM832 596h3v1h-3zM838 596h3v1h-3zM844 596h3v1h-3zM850 596h3v1h-3zM856 596h3v1h-3zM862 596h3v1h-3zM868 596h3v1h-3zM874 596h3v1h-3zM880 596h3v1h-3zM886 596h3v1h-3zM892 596h3v1h-3zM898 596h3v1h-3zM904 596h3v1h-3zM910 596h3v1h-3zM916 596h3v1h-3zM922 596h3v1h-3zM928 596h3v1h-3zM934 596h3v1h-3zM940 596h3v1h-3zM946 596h3v1h-3zM952 596h3v1h-3zM958 596h3v1h-3zM964 596h3v1h-3zM970 596h3v1h-3zM976 596h3v1h-3zM982 596h3v1h-3zM988 596h3v1h-3zM994 596h3v1h-3zM1000 596h3v1h-3zM1006 596h3v1h-3zM1012 596h3v1h-3zM1018 596h3v1h-3zM1024 596h3v1h-3zM1030 596h3v1h-3zM1036 596h3v1h-3zM1042 596h3v1h-3zM1048 596h3v1h-3zM1054 596h3v1h-3zM1060 596h3v1h-3zM1066 596h3v1h-3zM1072 596h3v1h-3zM1078 596h3v1h-3zM1084 596h3v1h-3zM1090 596h3v1h-3zM1096 596h3v1h-3zM1102 596h3v1h-3zM1108 596h3v1h-3zM1114 596h3v1h-3zM1120 596h3v1h-3zM1126 596h3v1h-3zM1132 596h3v1h-3zM1138 596h3v1h-3zM1144 596h3v1h-3zM1150 596h3v1h-3zM1156 596h3v1h-3zM1162 596h3v1h-3zM1168 596h3v1h-3zM1174 596h3v1h-3zM1180 596h3v1h-3zM1186 596h3v1h-3zM1192 596h3v1h-3zM1198 596h3v1h-3zM1204 596h3v1h-3zM1210 596h3v1h-3zM1216 596h3v1h-3zM1222 596h3v1h-3zM1228 596h3v1h-3zM1234 596h3v1h-3zM1240 596h3v1h-3zM1246 596h3v1h-3zM1252 596h3v1h-3zM1258 596h3v1h-3zM1264 596h3v1h-3zM1270 596h3v1h-3zM1276 596h3v1h-3zM1282 596h3v1h-3zM1288 596h3v1h-3zM1294 596h3v1h-3zM1300 596h3v1h-3zM1306 596h3v1h-3zM1312 596h3v1h-3zM1318 596h3v1h-3zM1324 596h3v1h-3zM1330 596h3v1h-3zM1336 596h3v1h-3zM1342 596h3v1h-3zM1348 596h3v1h-3zM1354 596h3v1h-3zM1360 596h3v1h-3zM1366 596h3v1h-3zM1372 596h3v1h-3zM1378 596h3v1h-3zM1384 596h3v1h-3zM1390 596h3v1h-3zM1396 596h3v1h-3zM1402 596h3v1h-3zM1408 596h3v1h-3zM1414 596h3v1h-3zM1420 596h3v1h-3zM1426 596h3v1h-3zM1432 596h3v1h-3zM1438 596h3v1h-3zM1444 596h3v1h-3zM1450 596h3v1h-3zM1456 596h3v1h-3zM1462 596h3v1h-3zM1468 596h3v1h-3zM1474 596h3v1h-3zM1480 596h3v1h-3zM1486 596h3v1h-3zM1492 596h3v1h-3zM1498 596h3v1h-3zM1504 596h3v1h-3zM1510 596h3v1h-3zM1516 596h3v1h-3zM1522 596h3v1h-3zM1528 596h3v1h-3zM1534 596h3v1h-3zM1540 596h3v1h-3zM1546 596h3v1h-3zM1552 596h3v1h-3zM1558 596h3v1h-3zM1564 596h3v1h-3zM1570 596h3v1h-3zM1576 596h3v1h-3zM1582 596h3v1h-3zM1588 596h3v1h-3zM1594 596h1v1h-1z" fill="#c0c0c0"/><path d="M743 563h2v1h-2zM850 563h2v1h-2zM741 564h2v1h-2zM745 564h2v1h-2zM846 564h4v1h-4zM852 564h1v1h-1zM727 565h14v1h-14zM747 565h1v2h-1zM843 565h3v1h-3zM853 565h1v2h-1zM466 566h2v1h-2zM726 566h1v1h-1zM842 566h1v1h-1zM255 567h1v2h-1zM462 567h4v1h-4zM467 567h1v1h-1zM725 567h1v1h-1zM748 567h1v2h-1zM841 567h1v2h-1zM854 567h1v1h-1zM191 568h1v1h-1zM215 568h1v1h-1zM256 568h1v2h-1zM451 568h11v1h-11zM468 568h1v4h-1zM724 568h1v1h-1zM855 568h3v1h-3zM34 569h2v1h-2zM151 569h9v1h-9zM190 569h1v1h-1zM192 569h1v2h-1zM213 569h2v1h-2zM216 569h2v1h-2zM254 569h1v2h-1zM307 569h1v1h-1zM394 569h2v1h-2zM449 569h2v1h-2zM723 569h1v1h-1zM749 569h1v3h-1zM840 569h1v1h-1zM858 569h3v1h-3zM31 570h3v1h-3zM36 570h1v1h-1zM150 570h1v1h-1zM160 570h1v1h-1zM183 570h3v1h-3zM188 570h2v1h-2zM210 570h3v1h-3zM218 570h1v1h-1zM257 570h1v2h-1zM263 570h6v1h-6zM305 570h2v1h-2zM308 570h1v2h-1zM391 570h3v1h-3zM396 570h1v2h-1zM443 570h6v1h-6zM707 570h3v1h-3zM722 570h1v1h-1zM839 570h1v1h-1zM861 570h2v1h-2zM30 571h1v1h-1zM37 571h1v2h-1zM51 571h1v2h-1zM149 571h1v1h-1zM161 571h1v1h-1zM182 571h1v1h-1zM186 571h2v1h-2zM193 571h1v1h-1zM207 571h3v1h-3zM219 571h3v1h-3zM253 571h1v3h-1zM262 571h1v1h-1zM269 571h2v1h-2zM298 571h7v1h-7zM390 571h1v1h-1zM441 571h2v1h-2zM705 571h2v1h-2zM710 571h8v1h-8zM720 571h2v1h-2zM838 571h1v1h-1zM863 571h1v2h-1zM974 571h3v1h-3zM29 572h1v1h-1zM50 572h1v1h-1zM148 572h1v1h-1zM162 572h1v1h-1zM181 572h1v1h-1zM194 572h1v2h-1zM205 572h2v1h-2zM222 572h4v1h-4zM258 572h1v2h-1zM261 572h1v1h-1zM271 572h2v1h-2zM295 572h3v1h-3zM309 572h1v1h-1zM351 572h1v1h-1zM388 572h2v1h-2zM397 572h1v1h-1zM439 572h2v1h-2zM469 572h1v4h-1zM702 572h3v1h-3zM718 572h2v1h-2zM750 572h1v2h-1zM837 572h1v1h-1zM895 572h3v1h-3zM966 572h8v1h-8zM977 572h2v1h-2zM982 572h2v1h-2zM28 573h1v1h-1zM38 573h1v1h-1zM49 573h1v2h-1zM52 573h1v4h-1zM147 573h1v1h-1zM163 573h1v1h-1zM180 573h1v1h-1zM202 573h3v1h-3zM226 573h2v1h-2zM243 573h3v1h-3zM260 573h1v1h-1zM273 573h2v1h-2zM293 573h2v1h-2zM310 573h1v2h-1zM349 573h2v1h-2zM352 573h1v1h-1zM387 573h1v1h-1zM398 573h1v2h-1zM438 573h1v2h-1zM699 573h3v1h-3zM836 573h1v1h-1zM864 573h1v2h-1zM894 573h1v1h-1zM898 573h6v1h-6zM963 573h3v1h-3zM979 573h3v1h-3zM983 573h1v1h-1zM1007 573h5v1h-5zM27 574h1v1h-1zM39 574h3v1h-3zM146 574h1v1h-1zM164 574h1v2h-1zM178 574h2v1h-2zM195 574h7v1h-7zM228 574h1v1h-1zM242 574h1v1h-1zM246 574h2v1h-2zM252 574h1v2h-1zM259 574h1v1h-1zM275 574h6v1h-6zM287 574h6v1h-6zM343 574h6v1h-6zM353 574h1v1h-1zM386 574h1v1h-1zM671 574h1v2h-1zM697 574h2v1h-2zM751 574h1v2h-1zM835 574h1v2h-1zM892 574h2v1h-2zM904 574h1v1h-1zM961 574h2v1h-2zM984 574h1v3h-1zM1005 574h2v1h-2zM1012 574h1v1h-1zM26 575h1v2h-1zM42 575h4v1h-4zM48 575h1v1h-1zM123 575h1v2h-1zM145 575h1v2h-1zM171 575h7v1h-7zM229 575h1v1h-1zM240 575h2v1h-2zM248 575h2v1h-2zM281 575h2v1h-2zM285 575h2v1h-2zM311 575h1v2h-1zM342 575h1v1h-1zM354 575h1v1h-1zM385 575h1v1h-1zM399 575h5v1h-5zM437 575h1v2h-1zM669 575h2v1h-2zM695 575h2v1h-2zM752 575h2v1h-2zM865 575h1v3h-1zM891 575h1v1h-1zM905 575h1v1h-1zM959 575h2v1h-2zM1003 575h2v1h-2zM1013 575h1v2h-1zM1035 575h3v1h-3zM46 576h2v1h-2zM121 576h2v1h-2zM165 576h1v2h-1zM170 576h1v1h-1zM230 576h1v1h-1zM239 576h1v1h-1zM250 576h2v1h-2zM283 576h2v1h-2zM341 576h1v1h-1zM355 576h1v1h-1zM384 576h1v1h-1zM403 576h1v1h-1zM470 576h1v4h-1zM667 576h2v1h-2zM672 576h1v2h-1zM694 576h1v1h-1zM754 576h6v1h-6zM834 576h1v4h-1zM889 576h2v1h-2zM906 576h1v1h-1zM957 576h2v1h-2zM1002 576h1v2h-1zM1023 576h2v1h-2zM1034 576h1v1h-1zM1038 576h6v1h-6zM1051 576h1v2h-1zM1063 576h6v1h-6zM25 577h1v1h-1zM53 577h1v4h-1zM119 577h2v1h-2zM124 577h1v2h-1zM139 577h3v1h-3zM144 577h1v1h-1zM169 577h1v2h-1zM231 577h1v1h-1zM238 577h1v1h-1zM251 577h1v1h-1zM312 577h1v4h-1zM340 577h1v1h-1zM356 577h1v2h-1zM379 577h5v1h-5zM404 577h1v2h-1zM431 577h2v1h-2zM436 577h1v2h-1zM666 577h1v2h-1zM693 577h1v2h-1zM760 577h2v1h-2zM887 577h2v1h-2zM907 577h5v1h-5zM939 577h1v1h-1zM955 577h2v1h-2zM985 577h1v2h-1zM1014 577h1v1h-1zM1021 577h2v1h-2zM1025 577h2v1h-2zM1032 577h2v1h-2zM1044 577h2v1h-2zM1050 577h1v1h-1zM1062 577h1v1h-1zM1069 577h2v1h-2zM24 578h1v2h-1zM111 578h2v1h-2zM118 578h1v1h-1zM138 578h1v1h-1zM142 578h2v1h-2zM166 578h1v2h-1zM232 578h2v1h-2zM237 578h1v1h-1zM339 578h1v1h-1zM379 578h1v1h-1zM430 578h1v1h-1zM433 578h2v1h-2zM673 578h1v3h-1zM762 578h1v1h-1zM766 578h2v1h-2zM866 578h1v2h-1zM886 578h1v1h-1zM912 578h1v1h-1zM938 578h1v1h-1zM940 578h2v1h-2zM953 578h2v1h-2zM1001 578h1v2h-1zM1015 578h6v1h-6zM1027 578h5v1h-5zM1046 578h1v1h-1zM1048 578h2v1h-2zM1052 578h1v2h-1zM1060 578h2v1h-2zM1071 578h1v1h-1zM103 579h2v1h-2zM110 579h1v1h-1zM113 579h2v1h-2zM116 579h2v1h-2zM125 579h1v2h-1zM136 579h2v1h-2zM168 579h1v1h-1zM234 579h1v1h-1zM236 579h1v1h-1zM338 579h1v1h-1zM357 579h1v1h-1zM378 579h1v2h-1zM405 579h1v2h-1zM429 579h1v2h-1zM435 579h1v1h-1zM665 579h1v2h-1zM692 579h1v1h-1zM763 579h3v1h-3zM767 579h1v1h-1zM884 579h2v1h-2zM913 579h1v1h-1zM937 579h1v1h-1zM942 579h1v1h-1zM946 579h7v1h-7zM986 579h1v3h-1zM1047 579h1v1h-1zM1059 579h1v1h-1zM1072 579h1v1h-1zM22 580h2v1h-2zM102 580h1v1h-1zM105 580h2v1h-2zM108 580h2v1h-2zM115 580h1v1h-1zM135 580h1v1h-1zM167 580h1v1h-1zM235 580h1v1h-1zM336 580h2v1h-2zM358 580h1v2h-1zM471 580h1v3h-1zM691 580h1v1h-1zM768 580h1v3h-1zM833 580h1v3h-1zM867 580h1v2h-1zM882 580h2v1h-2zM914 580h1v1h-1zM926 580h2v1h-2zM936 580h1v1h-1zM943 580h3v1h-3zM1000 580h1v2h-1zM1053 580h1v3h-1zM1058 580h1v2h-1zM1073 580h1v2h-1zM1079 580h1v1h-1zM19 581h3v1h-3zM54 581h1v4h-1zM101 581h1v1h-1zM107 581h1v1h-1zM126 581h1v2h-1zM134 581h1v1h-1zM313 581h1v3h-1zM335 581h1v1h-1zM377 581h1v3h-1zM406 581h1v2h-1zM428 581h1v1h-1zM655 581h6v1h-6zM664 581h1v2h-1zM674 581h1v2h-1zM690 581h1v2h-1zM827 581h1v1h-1zM879 581h3v1h-3zM915 581h11v1h-11zM928 581h1v1h-1zM935 581h1v1h-1zM1078 581h1v1h-1zM1080 581h1v2h-1zM18 582h1v2h-1zM100 582h1v1h-1zM133 582h1v2h-1zM334 582h1v1h-1zM359 582h1v1h-1zM418 582h2v1h-2zM427 582h1v1h-1zM487 582h3v1h-3zM654 582h1v1h-1zM661 582h2v1h-2zM825 582h2v1h-2zM828 582h1v2h-1zM868 582h1v1h-1zM878 582h1v2h-1zM929 582h1v2h-1zM934 582h1v1h-1zM987 582h1v2h-1zM999 582h1v2h-1zM1057 582h1v2h-1zM1074 582h1v1h-1zM1076 582h2v1h-2zM1191 582h1v1h-1zM1247 582h3v1h-3zM3 583h1v1h-1zM99 583h1v1h-1zM127 583h1v2h-1zM332 583h2v1h-2zM360 583h1v2h-1zM407 583h1v2h-1zM415 583h3v1h-3zM420 583h1v1h-1zM426 583h1v1h-1zM472 583h1v2h-1zM486 583h1v1h-1zM490 583h2v1h-2zM647 583h2v1h-2zM653 583h1v1h-1zM663 583h1v1h-1zM675 583h1v2h-1zM689 583h1v1h-1zM769 583h1v3h-1zM819 583h6v1h-6zM832 583h1v4h-1zM869 583h1v1h-1zM933 583h1v1h-1zM1054 583h1v2h-1zM1075 583h1v1h-1zM1081 583h1v1h-1zM1190 583h1v1h-1zM1192 583h1v1h-1zM1247 583h1v1h-1zM1250 583h2v1h-2zM4 584h2v1h-2zM17 584h1v1h-1zM98 584h1v1h-1zM128 584h2v1h-2zM132 584h1v1h-1zM314 584h1v4h-1zM331 584h1v1h-1zM376 584h1v2h-1zM408 584h2v1h-2zM413 584h2v1h-2zM421 584h1v1h-1zM425 584h1v1h-1zM485 584h1v2h-1zM492 584h2v1h-2zM606 584h3v1h-3zM646 584h1v1h-1zM649 584h2v1h-2zM652 584h1v1h-1zM688 584h1v2h-1zM819 584h1v2h-1zM829 584h1v2h-1zM870 584h1v1h-1zM877 584h1v1h-1zM930 584h1v1h-1zM932 584h1v1h-1zM988 584h1v2h-1zM998 584h1v1h-1zM1056 584h1v2h-1zM1082 584h1v2h-1zM1111 584h5v1h-5zM1139 584h2v1h-2zM1159 584h3v1h-3zM1189 584h1v1h-1zM1193 584h1v1h-1zM1246 584h1v2h-1zM1252 584h1v2h-1zM6 585h1v1h-1zM16 585h1v2h-1zM55 585h1v2h-1zM91 585h3v1h-3zM96 585h2v1h-2zM130 585h2v1h-2zM330 585h1v1h-1zM361 585h1v1h-1zM410 585h3v1h-3zM422 585h1v1h-1zM424 585h1v1h-1zM473 585h1v2h-1zM494 585h1v1h-1zM603 585h3v1h-3zM609 585h2v1h-2zM639 585h2v1h-2zM645 585h1v1h-1zM651 585h1v1h-1zM676 585h1v1h-1zM871 585h2v1h-2zM876 585h1v2h-1zM931 585h1v1h-1zM997 585h1v1h-1zM1055 585h1v2h-1zM1111 585h1v1h-1zM1116 585h1v2h-1zM1137 585h2v1h-2zM1141 585h2v1h-2zM1151 585h3v1h-3zM1157 585h2v1h-2zM1162 585h2v1h-2zM1179 585h3v1h-3zM1188 585h1v1h-1zM1194 585h1v1h-1zM7 586h7v1h-7zM56 586h4v1h-4zM90 586h1v2h-1zM94 586h2v1h-2zM329 586h1v2h-1zM362 586h1v2h-1zM375 586h1v2h-1zM423 586h1v1h-1zM479 586h3v1h-3zM484 586h1v1h-1zM495 586h1v1h-1zM539 586h3v1h-3zM602 586h1v1h-1zM611 586h3v1h-3zM638 586h1v1h-1zM641 586h2v1h-2zM644 586h1v1h-1zM677 586h1v2h-1zM687 586h1v1h-1zM770 586h1v3h-1zM818 586h1v4h-1zM830 586h1v2h-1zM873 586h2v1h-2zM989 586h1v1h-1zM996 586h1v1h-1zM1083 586h2v1h-2zM1110 586h1v2h-1zM1135 586h2v1h-2zM1143 586h3v1h-3zM1149 586h2v1h-2zM1154 586h3v1h-3zM1164 586h2v1h-2zM1177 586h2v1h-2zM1182 586h6v1h-6zM1195 586h3v1h-3zM1245 586h1v3h-1zM1253 586h1v1h-1zM14 587h2v1h-2zM59 587h1v1h-1zM67 587h1v1h-1zM75 587h1v1h-1zM474 587h1v2h-1zM478 587h1v1h-1zM482 587h2v1h-2zM496 587h2v1h-2zM506 587h2v1h-2zM537 587h2v1h-2zM542 587h3v1h-3zM555 587h1v1h-1zM601 587h1v2h-1zM614 587h2v1h-2zM636 587h2v1h-2zM643 587h1v1h-1zM686 587h1v1h-1zM831 587h1v2h-1zM875 587h1v1h-1zM990 587h1v2h-1zM995 587h1v1h-1zM1085 587h2v1h-2zM1098 587h4v1h-4zM1117 587h1v1h-1zM1135 587h1v1h-1zM1146 587h3v1h-3zM1166 587h1v1h-1zM1175 587h2v1h-2zM1198 587h8v1h-8zM1254 587h1v2h-1zM60 588h1v2h-1zM66 588h1v2h-1zM68 588h1v1h-1zM74 588h1v1h-1zM76 588h2v1h-2zM89 588h1v1h-1zM315 588h1v2h-1zM328 588h1v1h-1zM363 588h3v1h-3zM373 588h2v1h-2zM477 588h1v1h-1zM498 588h1v1h-1zM502 588h4v1h-4zM508 588h1v2h-1zM535 588h2v1h-2zM545 588h2v1h-2zM554 588h1v1h-1zM556 588h1v2h-1zM595 588h2v1h-2zM616 588h1v1h-1zM631 588h5v1h-5zM678 588h1v1h-1zM685 588h1v1h-1zM993 588h2v1h-2zM1087 588h11v1h-11zM1102 588h2v1h-2zM1109 588h1v2h-1zM1118 588h1v2h-1zM1134 588h1v4h-1zM1167 588h1v1h-1zM1174 588h1v1h-1zM1206 588h6v1h-6zM1235 588h3v1h-3zM1262 588h4v1h-4zM69 589h1v2h-1zM73 589h1v2h-1zM78 589h1v1h-1zM82 589h3v1h-3zM88 589h1v2h-1zM316 589h1v1h-1zM327 589h1v1h-1zM366 589h7v1h-7zM475 589h2v1h-2zM499 589h3v1h-3zM515 589h3v1h-3zM534 589h1v2h-1zM547 589h3v1h-3zM552 589h2v1h-2zM594 589h1v2h-1zM597 589h2v1h-2zM600 589h1v1h-1zM617 589h1v1h-1zM630 589h1v2h-1zM679 589h3v1h-3zM684 589h1v1h-1zM771 589h1v2h-1zM991 589h2v1h-2zM1104 589h1v1h-1zM1168 589h2v1h-2zM1173 589h1v1h-1zM1212 589h1v1h-1zM1234 589h1v1h-1zM1238 589h2v1h-2zM1244 589h1v2h-1zM1255 589h7v1h-7zM1266 589h2v1h-2zM61 590h1v2h-1zM65 590h1v2h-1zM79 590h3v1h-3zM85 590h2v1h-2zM317 590h2v1h-2zM325 590h2v1h-2zM475 590h1v1h-1zM509 590h1v1h-1zM514 590h1v1h-1zM518 590h2v1h-2zM550 590h2v1h-2zM557 590h1v2h-1zM587 590h1v1h-1zM599 590h1v1h-1zM618 590h1v1h-1zM682 590h2v1h-2zM772 590h1v1h-1zM817 590h1v4h-1zM1105 590h1v2h-1zM1108 590h1v2h-1zM1119 590h1v1h-1zM1170 590h1v1h-1zM1172 590h1v1h-1zM1213 590h1v1h-1zM1233 590h1v1h-1zM1240 590h2v1h-2zM70 591h1v1h-1zM72 591h1v1h-1zM87 591h1v1h-1zM319 591h6v1h-6zM510 591h1v2h-1zM513 591h1v1h-1zM520 591h1v1h-1zM527 591h1v1h-1zM533 591h1v2h-1zM586 591h1v1h-1zM588 591h1v1h-1zM593 591h1v1h-1zM619 591h1v1h-1zM629 591h1v2h-1zM773 591h2v1h-2zM1120 591h1v2h-1zM1171 591h1v1h-1zM1214 591h1v1h-1zM1232 591h1v1h-1zM1242 591h2v1h-2zM62 592h1v2h-1zM64 592h1v2h-1zM71 592h1v1h-1zM512 592h1v1h-1zM521 592h1v2h-1zM526 592h1v1h-1zM528 592h1v1h-1zM558 592h1v2h-1zM585 592h1v1h-1zM589 592h1v1h-1zM592 592h1v2h-1zM620 592h1v1h-1zM775 592h1v1h-1zM1106 592h2v1h-2zM1133 592h1v4h-1zM1215 592h5v1h-5zM1227 592h5v1h-5zM1243 592h1v1h-1zM511 593h1v1h-1zM525 593h1v1h-1zM529 593h1v1h-1zM532 593h1v2h-1zM584 593h1v1h-1zM590 593h1v1h-1zM621 593h1v1h-1zM628 593h1v2h-1zM776 593h1v1h-1zM1107 593h1v1h-1zM1121 593h1v1h-1zM1220 593h2v1h-2zM1226 593h1v1h-1zM63 594h1v1h-1zM522 594h1v1h-1zM524 594h1v1h-1zM530 594h1v1h-1zM559 594h2v1h-2zM583 594h1v1h-1zM591 594h1v1h-1zM622 594h1v1h-1zM777 594h1v1h-1zM816 594h1v4h-1zM1122 594h1v2h-1zM1222 594h1v1h-1zM1224 594h2v1h-2zM523 595h1v1h-1zM531 595h1v1h-1zM561 595h2v1h-2zM582 595h1v1h-1zM623 595h3v1h-3zM627 595h1v2h-1zM778 595h1v1h-1zM1223 595h1v1h-1zM563 596h1v1h-1zM581 596h1v1h-1zM626 596h1v1h-1zM779 596h1v1h-1zM1123 596h1v1h-1zM1132 596h1v4h-1zM564 597h1v1h-1zM580 597h1v1h-1zM780 597h1v1h-1zM1124 597h2v1h-2zM565 598h1v1h-1zM579 598h1v1h-1zM781 598h1v2h-1zM815 598h1v3h-1zM1126 598h1v1h-1zM566 599h1v1h-1zM578 599h1v1h-1zM1127 599h1v1h-1zM567 600h7v1h-7zM576 600h2v1h-2zM782 600h1v1h-1zM1128 600h2v1h-2zM1131 600h1v3h-1zM574 601h2v1h-2zM783 601h1v1h-1zM814 601h1v2h-1zM1130 601h1v1h-1zM784 602h2v1h-2zM786 603h1v1h-1zM813 603h1v2h-1zM787 604h5v1h-5zM792 605h2v1h-2zM812 605h1v2h-1zM794 606h1v1h-1zM795 607h1v1h-1zM811 607h1v2h-1zM796 608h1v1h-1zM797 609h1v2h-1zM810 609h1v2h-1zM798 611h1v1h-1zM809 611h1v1h-1zM799 612h6v1h-6zM808 612h1v2h-1zM805 613h2v1h-2zM807 614h1v1h-1z" fill="#1e90ff"/><path d="M3 658h1v4h-1zM7 658h1v5h-1zM11 658h1v6h-1zM15 658h1v8h-1zM19 658h1v7h-1zM23 658h1v7h-1zM27 658h1v4h-1zM31 658h1v1h-1zM35 655h1v4h-1zM39 654h1v5h-1zM43 654h1v5h-1zM47 653h1v6h-1zM51 652h1v7h-1zM55 655h1v4h-1zM59 658h1v1h-1zM63 658h1v7h-1zM67 658h1v10h-1zM71 658h1v14h-1zM75 658h1v16h-1zM79 658h1v19h-1zM83 658h1v20h-1zM87 658h1v22h-1zM91 658h1v22h-1zM95 658h1v21h-1zM99 658h1v20h-1zM103 658h1v17h-1zM107 658h1v15h-1zM111 658h1v12h-1zM115 658h1v11h-1zM119 658h1v9h-1zM123 658h1v6h-1zM127 658h1v7h-1zM131 658h1v9h-1zM135 658h1v8h-1zM139 658h1v6h-1zM143 658h1v5h-1zM147 658h1v2h-1zM151 655h1v4h-1zM155 651h1v8h-1zM159 649h1v10h-1zM163 648h1v11h-1zM167 650h1v9h-1zM171 649h1v10h-1zM175 649h1v10h-1zM179 648h1v11h-1zM183 647h1v12h-1zM187 646h1v13h-1zM191 644h1v15h-1zM195 645h1v14h-1zM199 645h1v14h-1zM203 645h1v14h-1zM207 645h1v14h-1zM211 644h1v15h-1zM215 643h1v16h-1zM219 643h1v16h-1zM223 644h1v15h-1zM227 645h1v14h-1zM231 646h1v13h-1zM235 648h1v11h-1zM239 649h1v10h-1zM243 649h1v10h-1zM247 649h1v10h-1zM251 650h1v9h-1zM255 648h1v11h-1zM259 648h1v11h-1zM263 646h1v13h-1zM267 645h1v14h-1zM271 645h1v14h-1zM275 646h1v13h-1zM279 647h1v12h-1zM283 647h1v12h-1zM287 648h1v11h-1zM291 648h1v11h-1zM295 648h1v11h-1zM299 648h1v11h-1zM303 648h1v11h-1zM307 647h1v12h-1zM311 648h1v11h-1zM315 653h1v6h-1zM319 656h1v3h-1zM323 658h1v3h-1zM327 658h1v5h-1zM331 658h1v5h-1zM335 658h1v5h-1zM339 658h1v4h-1zM343 658h1v2h-1zM347 658h1v1h-1zM351 656h1v3h-1zM355 656h1v3h-1zM359 657h1v2h-1zM363 658h1v2h-1zM367 658h1v5h-1zM371 658h1v6h-1zM375 658h1v7h-1zM379 658h1v6h-1zM383 658h1v4h-1zM387 658h1v2h-1zM391 657h1v2h-1zM395 655h1v4h-1zM399 654h1v5h-1zM403 654h1v5h-1zM407 656h1v3h-1zM411 657h1v2h-1zM415 658h1v1h-1zM419 658h1v2h-1zM423 658h1v3h-1zM427 658h1v4h-1zM431 658h1v3h-1zM435 658h1v2h-1zM439 657h1v2h-1zM443 655h1v4h-1zM447 653h1v6h-1zM451 652h1v7h-1zM455 650h1v9h-1zM459 649h1v10h-1zM463 648h1v11h-1zM467 647h1v12h-1zM471 649h1v10h-1zM475 654h1v5h-1zM479 656h1v3h-1zM483 658h1v2h-1zM487 658h1v2h-1zM491 658h1v3h-1zM495 658h1v5h-1zM499 658h1v6h-1zM503 658h1v8h-1zM507 658h1v8h-1zM511 658h1v11h-1zM515 658h1v11h-1zM519 658h1v12h-1zM523 658h1v14h-1zM527 658h1v15h-1zM531 658h1v17h-1zM535 658h1v17h-1zM539 658h1v16h-1zM543 658h1v16h-1zM547 658h1v15h-1zM551 658h1v16h-1zM555 658h1v15h-1zM559 658h1v17h-1zM563 658h1v19h-1zM567 658h1v22h-1zM571 658h1v24h-1zM575 658h1v26h-1zM579 658h1v27h-1zM583 658h1v26h-1zM587 658h1v25h-1zM591 658h1v25h-1zM595 658h1v24h-1zM599 658h1v23h-1zM603 658h1v21h-1zM607 658h1v19h-1zM611 658h1v18h-1zM615 658h1v17h-1zM619 658h1v17h-1zM623 658h1v19h-1zM627 658h1v20h-1zM631 658h1v19h-1zM635 658h1v19h-1zM639 658h1v17h-1zM643 658h1v17h-1zM647 658h1v15h-1zM651 658h1v14h-1zM655 658h1v12h-1zM659 658h1v11h-1zM663 658h1v10h-1zM667 658h1v8h-1zM671 658h1v5h-1zM675 658h1v6h-1zM679 658h1v8h-1zM683 658h1v10h-1zM687 658h1v10h-1zM691 658h1v9h-1zM695 658h1v7h-1zM699 658h1v4h-1zM703 658h1v1h-1zM707 656h1v3h-1zM711 654h1v5h-1zM715 652h1v7h-1zM719 651h1v8h-1zM723 650h1v9h-1zM727 648h1v11h-1zM731 646h1v13h-1zM735 645h1v14h-1zM739 644h1v15h-1zM743 643h1v16h-1zM747 643h1v16h-1zM751 644h1v15h-1zM755 646h1v13h-1zM759 647h1v12h-1zM763 649h1v10h-1zM767 650h1v9h-1zM771 654h1v5h-1zM775 657h1v2h-1zM779 658h1v4h-1zM783 658h1v10h-1zM787 658h1v16h-1zM791 658h1v20h-1zM795 658h1v25h-1zM799 658h1v34h-1zM803 658h1v41h-1zM807 658h1v49h-1zM811 658h1v53h-1zM815 658h1v54h-1zM819 658h1v47h-1zM823 658h1v42h-1zM827 658h1v37h-1zM831 658h1v35h-1zM835 658h1v27h-1zM839 658h1v17h-1zM843 658h1v4h-1zM847 650h1v9h-1zM851 641h1v18h-1zM855 636h1v23h-1zM859 633h1v26h-1zM863 633h1v26h-1zM867 638h1v21h-1zM871 645h1v14h-1zM875 653h1v6h-1zM879 655h1v4h-1zM883 657h1v2h-1zM887 656h1v3h-1zM891 653h1v6h-1zM895 649h1v10h-1zM899 647h1v12h-1zM903 645h1v14h-1zM907 646h1v13h-1zM911 646h1v13h-1zM915 649h1v10h-1zM919 652h1v7h-1zM923 654h1v5h-1zM927 655h1v4h-1zM931 658h1v1h-1zM935 658h1v2h-1zM939 658h1v1h-1zM943 658h1v1h-1zM947 658h1v1h-1zM951 658h1v1h-1zM955 657h1v2h-1zM959 656h1v3h-1zM963 654h1v5h-1zM967 652h1v7h-1zM971 650h1v9h-1zM975 649h1v10h-1zM979 648h1v11h-1zM983 648h1v11h-1zM987 650h1v9h-1zM991 655h1v4h-1zM995 658h1v2h-1zM999 658h1v3h-1zM1003 658h1v1h-1zM1007 656h1v3h-1zM1011 654h1v5h-1zM1015 654h1v5h-1zM1019 654h1v5h-1zM1023 654h1v5h-1zM1027 654h1v5h-1zM1031 655h1v4h-1zM1035 654h1v5h-1zM1039 654h1v5h-1zM1043 653h1v6h-1zM1047 654h1v5h-1zM1051 654h1v5h-1zM1055 657h1v2h-1zM1059 657h1v2h-1zM1063 656h1v3h-1zM1067 655h1v4h-1zM1071 656h1v3h-1zM1075 657h1v2h-1zM1079 658h1v1h-1zM1083 658h1v3h-1zM1087 658h1v6h-1zM1091 658h1v8h-1zM1095 658h1v10h-1zM1099 658h1v10h-1zM1103 658h1v11h-1zM1107 658h1v14h-1zM1111 658h1v13h-1zM1115 658h1v13h-1zM1119 658h1v15h-1zM1123 658h1v19h-1zM1127 658h1v24h-1zM1131 658h1v30h-1zM1135 658h1v29h-1zM1139 658h1v27h-1zM1143 658h1v26h-1zM1147 658h1v26h-1zM1151 658h1v25h-1zM1155 658h1v24h-1zM1159 658h1v22h-1zM1163 658h1v21h-1zM1167 658h1v22h-1zM1171 658h1v23h-1zM1175 658h1v23h-1zM1179 658h1v21h-1zM1183 658h1v21h-1zM1187 658h1v20h-1zM1191 658h1v18h-1zM1195 658h1v18h-1zM1199 658h1v18h-1zM1203 658h1v18h-1zM1207 658h1v17h-1zM1211 658h1v17h-1zM1215 658h1v18h-1zM1219 658h1v19h-1zM1223 658h1v21h-1zM1227 658h1v21h-1zM1231 658h1v21h-1zM1235 658h1v20h-1zM1239 658h1v19h-1zM1243 658h1v20h-1zM1247 658h1v17h-1zM1251 658h1v16h-1zM1255 658h1v16h-1zM1259 658h1v16h-1zM1263 658h1v16h-1zM1267 658h1v16h-1z" fill="#c0c0c0" clip-path="url(#cd)"/><path d="M878 643h1v1h-1zM876 644h2v1h-2zM882 644h3v1h-3zM219 645h3v1h-3zM225 645h3v1h-3zM231 645h3v1h-3zM213 646h3v1h-3zM237 646h3v1h-3zM754 646h2v1h-2zM759 646h3v1h-3zM765 646h3v1h-3zM872 646h1v1h-1zM888 646h1v1h-1zM202 647h2v1h-2zM207 647h3v1h-3zM243 647h3v1h-3zM249 647h1v1h-1zM286 647h2v1h-2zM753 647h1v1h-1zM771 647h2v1h-2zM871 647h1v1h-1zM889 647h2v1h-2zM195 648h3v1h-3zM201 648h1v1h-1zM250 648h2v1h-2zM255 648h3v1h-3zM273 648h3v1h-3zM279 648h3v1h-3zM285 648h1v1h-1zM291 648h3v1h-3zM297 648h3v1h-3zM303 648h3v1h-3zM309 648h1v1h-1zM747 648h3v1h-3zM773 648h1v1h-1zM870 648h1v1h-1zM189 649h3v1h-3zM261 649h3v1h-3zM267 649h3v1h-3zM310 649h2v1h-2zM315 649h3v1h-3zM742 649h2v1h-2zM894 649h3v1h-3zM183 650h3v1h-3zM741 650h1v1h-1zM777 650h2v1h-2zM914 650h1v1h-1zM918 650h3v1h-3zM924 650h3v1h-3zM321 651h2v1h-2zM737 651h1v1h-1zM779 651h1v1h-1zM900 651h2v1h-2zM912 651h2v1h-2zM930 651h3v1h-3zM178 652h2v1h-2zM323 652h1v1h-1zM471 652h3v1h-3zM477 652h3v1h-3zM483 652h3v1h-3zM735 652h2v1h-2zM866 652h1v2h-1zM902 652h1v1h-1zM906 652h3v1h-3zM936 652h1v1h-1zM986 652h1v1h-1zM990 652h3v1h-3zM996 652h2v1h-2zM177 653h1v1h-1zM327 653h2v1h-2zM467 653h1v1h-1zM489 653h1v1h-1zM937 653h2v1h-2zM984 653h2v1h-2zM998 653h1v1h-1zM173 654h1v1h-1zM329 654h1v1h-1zM465 654h2v1h-2zM490 654h2v1h-2zM731 654h1v1h-1zM783 654h1v1h-1zM865 654h1v1h-1zM978 654h3v1h-3zM1002 654h3v1h-3zM1008 654h2v1h-2zM171 655h2v1h-2zM333 655h1v1h-1zM729 655h2v1h-2zM784 655h2v1h-2zM942 655h3v1h-3zM974 655h1v1h-1zM1010 655h1v1h-1zM1038 655h3v1h-3zM1044 655h3v1h-3zM1050 655h3v1h-3zM1056 655h3v1h-3zM58 656h2v1h-2zM167 656h1v1h-1zM334 656h2v1h-2zM459 656h3v1h-3zM495 656h3v1h-3zM948 656h2v1h-2zM972 656h2v1h-2zM1014 656h3v1h-3zM1032 656h3v1h-3zM1062 656h3v1h-3zM1068 656h3v1h-3zM1074 656h3v1h-3zM57 657h1v1h-1zM63 657h3v1h-3zM165 657h2v1h-2zM418 657h2v1h-2zM454 657h2v1h-2zM725 657h1v1h-1zM950 657h1v1h-1zM966 657h3v1h-3zM1020 657h3v1h-3zM1026 657h3v1h-3zM1080 657h3v1h-3zM51 658h3v1h-3zM339 658h3v1h-3zM411 658h3v1h-3zM417 658h1v1h-1zM423 658h3v1h-3zM429 658h1v1h-1zM453 658h1v1h-1zM501 658h2v1h-2zM723 658h2v1h-2zM789 658h1v1h-1zM862 658h1v2h-1zM954 658h3v1h-3zM960 658h3v1h-3zM1086 658h3v1h-3zM69 659h2v1h-2zM161 659h1v1h-1zM345 659h1v1h-1zM406 659h2v1h-2zM430 659h2v1h-2zM435 659h3v1h-3zM441 659h3v1h-3zM447 659h3v1h-3zM503 659h1v1h-1zM790 659h1v1h-1zM1092 659h2v1h-2zM46 660h2v1h-2zM71 660h1v1h-1zM159 660h2v1h-2zM346 660h2v1h-2zM351 660h3v1h-3zM357 660h3v1h-3zM363 660h3v1h-3zM369 660h3v1h-3zM375 660h3v1h-3zM405 660h1v1h-1zM718 660h2v1h-2zM791 660h1v1h-1zM861 660h1v1h-1zM1094 660h1v1h-1zM45 661h1v1h-1zM381 661h3v1h-3zM387 661h3v1h-3zM393 661h3v1h-3zM399 661h3v1h-3zM507 661h2v1h-2zM717 661h1v1h-1zM1098 661h1v1h-1zM3 662h3v1h-3zM9 662h3v1h-3zM33 662h3v1h-3zM39 662h3v1h-3zM75 662h2v1h-2zM154 662h2v1h-2zM509 662h1v1h-1zM713 662h1v1h-1zM1099 662h2v1h-2zM15 663h3v1h-3zM21 663h3v1h-3zM27 663h3v1h-3zM77 663h1v1h-1zM153 663h1v1h-1zM513 663h1v1h-1zM711 663h2v1h-2zM1104 663h1v1h-1zM149 664h1v1h-1zM514 664h2v1h-2zM706 664h2v1h-2zM795 664h1v1h-1zM859 664h1v1h-1zM1105 664h2v1h-2zM81 665h1v1h-1zM147 665h2v1h-2zM519 665h2v1h-2zM699 665h3v1h-3zM705 665h1v1h-1zM796 665h1v1h-1zM858 665h1v2h-1zM82 666h1v1h-1zM142 666h2v1h-2zM521 666h1v1h-1zM693 666h3v1h-3zM797 666h1v1h-1zM1110 666h3v1h-3zM83 667h1v1h-1zM141 667h1v1h-1zM525 667h1v1h-1zM682 667h2v1h-2zM687 667h3v1h-3zM135 668h3v1h-3zM526 668h2v1h-2zM681 668h1v1h-1zM1116 668h2v1h-2zM531 669h3v1h-3zM675 669h3v1h-3zM1118 669h1v1h-1zM87 670h2v1h-2zM130 670h2v1h-2zM537 670h1v1h-1zM670 670h2v1h-2zM800 670h1v1h-1zM856 670h1v1h-1zM1122 670h3v1h-3zM89 671h1v1h-1zM129 671h1v1h-1zM538 671h2v1h-2zM669 671h1v1h-1zM801 671h1v2h-1zM855 671h1v1h-1zM125 672h1v1h-1zM543 672h3v1h-3zM665 672h1v1h-1zM854 672h1v1h-1zM1128 672h1v1h-1zM93 673h1v1h-1zM123 673h2v1h-2zM549 673h3v1h-3zM555 673h3v1h-3zM663 673h2v1h-2zM1129 673h2v1h-2zM94 674h1v1h-1zM119 674h1v1h-1zM561 674h3v1h-3zM658 674h2v1h-2zM95 675h1v1h-1zM117 675h2v1h-2zM567 675h3v1h-3zM651 675h3v1h-3zM657 675h1v1h-1zM1134 675h1v1h-1zM1266 675h2v1h-2zM99 676h3v1h-3zM111 676h3v1h-3zM573 676h2v1h-2zM639 676h3v1h-3zM645 676h3v1h-3zM804 676h1v1h-1zM852 676h1v2h-1zM1135 676h2v1h-2zM1212 676h3v1h-3zM1218 676h3v1h-3zM1224 676h3v1h-3zM1260 676h3v1h-3zM105 677h3v1h-3zM575 677h1v1h-1zM633 677h3v1h-3zM805 677h1v1h-1zM1206 677h3v1h-3zM1230 677h3v1h-3zM1236 677h3v1h-3zM1242 677h3v1h-3zM1248 677h3v1h-3zM1254 677h3v1h-3zM579 678h3v1h-3zM622 678h2v1h-2zM627 678h3v1h-3zM806 678h1v1h-1zM851 678h1v1h-1zM1140 678h1v1h-1zM1194 678h3v1h-3zM1200 678h3v1h-3zM585 679h1v1h-1zM621 679h1v1h-1zM1141 679h2v1h-2zM1190 679h1v1h-1zM586 680h2v1h-2zM615 680h3v1h-3zM1182 680h3v1h-3zM1188 680h2v1h-2zM591 681h3v1h-3zM610 681h2v1h-2zM1146 681h3v1h-3zM1176 681h3v1h-3zM597 682h3v1h-3zM603 682h3v1h-3zM609 682h1v1h-1zM808 682h1v1h-1zM849 682h1v2h-1zM1152 682h2v1h-2zM1170 682h3v1h-3zM809 683h1v1h-1zM1154 683h1v1h-1zM1164 683h3v1h-3zM810 684h1v1h-1zM848 684h1v1h-1zM1158 684h3v1h-3zM813 688h1v2h-1zM846 688h1v1h-1zM845 689h1v2h-1zM814 690h1v1h-1zM817 694h1v1h-1zM842 694h1v1h-1zM818 695h1v1h-1zM841 695h1v2h-1zM819 696h1v1h-1zM823 699h3v1h-3zM829 700h1v1h-1zM836 700h2v1h-2zM830 701h2v1h-2zM835 701h1v1h-1z" fill="#ff0000"/><rect x="1271" y="25" width="9" height="1" fill="#c0c0c0"/><rect x="1272" y="26" width="7" height="1" fill="#c0c0c0"/><rect x="1273" y="27" width="5" height="1" fill="#c0c0c0"/><rect x="1274" y="28" width="3" height="1" fill="#c0c0c0"/><rect x="1275" y="29" width="1" height="1" fill="#c0c0c0"/><rect x="2" y="24" width="1594" height="1" fill="#000"/><rect x="2" y="24" width="1" height="507" fill="#000"/><rect x="2" y="530" width="1594" height="1" fill="#000"/><rect x="1595" y="24" width="1" height="507" fill="#000"/><rect x="2" y="532" width="1594" height="1" fill="#000"/><rect x="2" y="532" width="1" height="93" fill="#000"/><rect x="2" y="624" width="1594" height="1" fill="#000"/><rect x="1595" y="532" width="1" height="93" fill="#000"/><rect x="2" y="626" width="1594" height="1" fill="#000"/><rect x="2" y="626" width="1" height="93" fill="#000"/><rect x="2" y="718" width="1594" height="1" fill="#000"/><rect x="1595" y="626" width="1" height="93" fill="#000"/><rect x="3" y="173" width="1592" height="2" fill="#ff0000"/><rect x="2" y="171" width="6" height="6" fill="#ff0000"/><rect x="4" y="173" width="2" height="2" fill="#fff"/><rect x="1589" y="171" width="6" height="6" fill="#ff0000"/><rect x="1591" y="173" width="2" height="2" fill="#fff"/><rect x="3" y="240" width="1592" height="2" fill="#ff0000"/><rect x="3" y="298" width="1592" height="2" fill="#00ff00"/><rect x="2" y="296" width="6" height="6" fill="#00ff00"/><rect x="4" y="298" width="2" height="2" fill="#fff"/><rect x="1589" y="296" width="6" height="6" fill="#00ff00"/><rect x="1591" y="298" width="2" height="2" fill="#fff"/><rect x="3" y="373" width="1592" height="2" fill="#0000ff"/><rect x="2" y="371" width="6" height="6" fill="#0000ff"/><rect x="4" y="373" width="2" height="2" fill="#fff"/><rect x="1589" y="371" width="6" height="6" fill="#0000ff"/><rect x="1591" y="373" width="2" height="2" fill="#fff"/><rect x="3" y="451" width="1592" height="2" fill="#0000ff"/><rect x="2" y="449" width="6" height="6" fill="#0000ff"/><rect x="4" y="451" width="2" height="2" fill="#fff"/><rect x="1589" y="449" width="6" height="6" fill="#0000ff"/><rect x="1591" y="451" width="2" height="2" fill="#fff"/><rect x="1596" y="32" width="2" height="1" fill="#000"/><rect x="1596" y="65" width="2" height="1" fill="#000"/><rect x="1596" y="98" width="2" height="1" fill="#000"/><rect x="1596" y="131" width="2" height="1" fill="#000"/><rect x="1596" y="164" width="2" height="1" fill="#000"/><rect x="1596" y="197" width="2" height="1" fill="#000"/><rect x="1596" y="230" width="2" height="1" fill="#000"/><rect x="1596" y="263" width="2" height="1" fill="#000"/><rect x="1596" y="329" width="2" height="1" fill="#000"/><rect x="1596" y="362" width="2" height="1" fill="#000"/><rect x="1596" y="395" width="2" height="1" fill="#000"/><rect x="1596" y="428" width="2" height="1" fill="#000"/><rect x="1596" y="461" width="2" height="1" fill="#000"/><rect x="1596" y="494" width="2" height="1" fill="#000"/><rect x="1596" y="527" width="2" height="1" fill="#000"/><rect x="1597" y="168" width="40" height="11" fill="#ff0000"/><rect x="1597" y="235" width="40" height="11" fill="#ff0000"/><rect x="1597" y="293" width="40" height="11" fill="#00ff00"/><rect x="1597" y="368" width="40" height="11" fill="#0000ff"/><rect x="1597" y="446" width="40" height="11" fill="#0000ff"/><rect x="1597" y="400" width="40" height="11" fill="#000"/><rect x="1596" y="534" width="2" height="1" fill="#000"/><rect x="1596" y="560" width="2" height="1" fill="#000"/><rect x="1596" y="596" width="2" height="1" fill="#000"/><rect x="1596" y="623" width="2" height="1" fill="#000"/><rect x="1596" y="628" width="2" height="1" fill="#000"/><rect x="1596" y="658" width="2" height="1" fill="#000"/><rect x="1596" y="717" width="2" height="1" fill="#000"/><path d="M6 31h8l-4 4z" fill="#000"/><rect x="3" y="719" width="1" height="3" fill="#000"/><rect x="67" y="719" width="1" height="3" fill="#000"/><rect x="131" y="719" width="1" height="3" fill="#000"/><rect x="195" y="719" width="1" height="3" fill="#000"/><rect x="259" y="719" width="1" height="3" fill="#000"/><rect x="323" y="719" width="1" height="3" fill="#000"/><rect x="387" y="719" width="1" height="3" fill="#000"/><rect x="451" y="719" width="1" height="3" fill="#000"/><rect x="515" y="719" width="1" height="3" fill="#000"/><rect x="579" y="719" width="1" height="3" fill="#000"/><rect x="643" y="719" width="1" height="3" fill="#000"/><rect x="707" y="719" width="1" height="3" fill="#000"/><rect x="771" y="719" width="1" height="3" fill="#000"/><rect x="835" y="719" width="1" height="3" fill="#000"/><rect x="899" y="719" width="1" height="3" fill="#000"/><rect x="963" y="719" width="1" height="3" fill="#000"/><rect x="1027" y="719" width="1" height="3" fill="#000"/><rect x="1091" y="719" width="1" height="3" fill="#000"/><rect x="1155" y="719" width="1" height="3" fill="#000"/><rect x="1219" y="719" width="1" height="3" fill="#000"/><rect x="0" y="739" width="1637" height="1" fill="#f0f0f0"/><rect x="0" y="741" width="1637" height="1" fill="#000"/><rect x="0" y="742" width="1637" height="22" fill="#f0f0f0"/><rect x="0" y="761" width="1637" height="1" fill="#fff"/><rect x="0" y="764" width="1637" height="1" fill="#c8c8c8"/><rect x="0" y="765" width="1637" height="1" fill="#a0a0a0"/><rect x="108" y="741" width="100" height="19" fill="#000"/><rect x="109" y="740" width="98" height="19" fill="#fff"/><rect x="109" y="760" width="99" height="1" fill="#e0e0e0"/><rect x="312" y="744" width="1" height="14" fill="#707070"/><rect x="415" y="744" width="1" height="14" fill="#707070"/><rect x="520" y="744" width="1" height="14" fill="#707070"/><rect x="620" y="744" width="1" height="14" fill="#707070"/><rect x="720" y="744" width="1" height="14" fill="#707070"/><rect x="824" y="744" width="1" height="14" fill="#707070"/><rect x="896" y="744" width="1" height="14" fill="#707070"/><rect x="976" y="744" width="1" height="14" fill="#707070"/><rect x="1056" y="744" width="1" height="14" fill="#707070"/><rect x="1136" y="744" width="1" height="14" fill="#707070"/><rect x="1212" y="744" width="1" height="14" fill="#707070"/><rect x="1296" y="744" width="1" height="14" fill="#707070"/><rect x="1380" y="744" width="1" height="14" fill="#707070"/><rect x="1460" y="744" width="1" height="14" fill="#707070"/><rect x="1560" y="744" width="1" height="14" fill="#707070"/><path d="M1614 747h1v7h-1zM1613 748h1v5h-1zM1612 749h1v3h-1zM1611 750h1v1h-1z" fill="#9a9a9a"/><path d="M1630 747h1v7h-1zM1631 748h1v5h-1zM1632 749h1v3h-1zM1633 750h1v1h-1z" fill="#858585"/></g><g class="tx"><text x="1601" y="36.4" font-size="9.6" fill="#000" stroke="#000" textLength="33" lengthAdjust="spacingAndGlyphs">1.00570</text><text x="1601" y="69.4" font-size="9.6" fill="#000" stroke="#000" textLength="33" lengthAdjust="spacingAndGlyphs">0.99970</text><text x="1601" y="102.4" font-size="9.6" fill="#000" stroke="#000" textLength="33" lengthAdjust="spacingAndGlyphs">0.99385</text><text x="1601" y="135.4" font-size="9.6" fill="#000" stroke="#000" textLength="33" lengthAdjust="spacingAndGlyphs">0.98785</text><text x="1601" y="168.4" font-size="9.6" fill="#000" stroke="#000" textLength="33" lengthAdjust="spacingAndGlyphs">0.98185</text><text x="1601" y="201.4" font-size="9.6" fill="#000" stroke="#000" textLength="33" lengthAdjust="spacingAndGlyphs">0.97600</text><text x="1601" y="234.4" font-size="9.6" fill="#000" stroke="#000" textLength="33" lengthAdjust="spacingAndGlyphs">0.97000</text><text x="1601" y="267.4" font-size="9.6" fill="#000" stroke="#000" textLength="33" lengthAdjust="spacingAndGlyphs">0.96400</text><text x="1601" y="333.4" font-size="9.6" fill="#000" stroke="#000" textLength="33" lengthAdjust="spacingAndGlyphs">0.95215</text><text x="1601" y="366.4" font-size="9.6" fill="#000" stroke="#000" textLength="33" lengthAdjust="spacingAndGlyphs">0.94615</text><text x="1601" y="399.4" font-size="9.6" fill="#000" stroke="#000" textLength="33" lengthAdjust="spacingAndGlyphs">0.94030</text><text x="1601" y="432.4" font-size="9.6" fill="#000" stroke="#000" textLength="33" lengthAdjust="spacingAndGlyphs">0.93430</text><text x="1601" y="465.4" font-size="9.6" fill="#000" stroke="#000" textLength="33" lengthAdjust="spacingAndGlyphs">0.92830</text><text x="1601" y="498.4" font-size="9.6" fill="#000" stroke="#000" textLength="33" lengthAdjust="spacingAndGlyphs">0.92245</text><text x="1601" y="531.4" font-size="9.6" fill="#000" stroke="#000" textLength="33" lengthAdjust="spacingAndGlyphs">0.91645</text><text x="1601" y="177.4" font-size="9.6" fill="#fff" stroke="#fff" textLength="33" lengthAdjust="spacingAndGlyphs">0.98008</text><text x="1601" y="244.4" font-size="9.6" fill="#fff" stroke="#fff" textLength="33" lengthAdjust="spacingAndGlyphs">0.96803</text><text x="1601" y="302.4" font-size="9.6" fill="#fff" stroke="#fff" textLength="33" lengthAdjust="spacingAndGlyphs">0.95758</text><text x="1601" y="377.4" font-size="9.6" fill="#fff" stroke="#fff" textLength="33" lengthAdjust="spacingAndGlyphs">0.94408</text><text x="1601" y="455.4" font-size="9.6" fill="#fff" stroke="#fff" textLength="33" lengthAdjust="spacingAndGlyphs">0.93004</text><text x="1601" y="409.4" font-size="9.6" fill="#fff" stroke="#fff" textLength="33" lengthAdjust="spacingAndGlyphs">0.93840</text><text x="1599.5" y="543" font-size="9.6" fill="#000" stroke="#000" textLength="14.5" lengthAdjust="spacingAndGlyphs">100</text><text x="1599.5" y="564" font-size="9.6" fill="#000" stroke="#000" textLength="9.5" lengthAdjust="spacingAndGlyphs">70</text><text x="1599.5" y="600" font-size="9.6" fill="#000" stroke="#000" textLength="9.5" lengthAdjust="spacingAndGlyphs">30</text><text x="1599.5" y="621" font-size="9.6" fill="#000" stroke="#000" textLength="4.5" lengthAdjust="spacingAndGlyphs">0</text><text x="1599.5" y="637" font-size="9.6" fill="#000" stroke="#000" textLength="38.5" lengthAdjust="spacingAndGlyphs">0.005818</text><text x="1599.5" y="661.5" font-size="9.6" fill="#000" stroke="#000" textLength="16.7" lengthAdjust="spacingAndGlyphs">0.00</text><text x="1599.5" y="715" font-size="9.6" fill="#000" stroke="#000" textLength="42" lengthAdjust="spacingAndGlyphs">-0.011514</text><text y="36.4" font-size="9.6" fill="#000" stroke="#000"><tspan x="18.3" textLength="64" lengthAdjust="spacingAndGlyphs">USDCHF,Daily</tspan><tspan x="89" textLength="32.5" lengthAdjust="spacingAndGlyphs">0.93886</tspan> <tspan x="125" textLength="32.5" lengthAdjust="spacingAndGlyphs">0.94004</tspan> <tspan x="161" textLength="32.5" lengthAdjust="spacingAndGlyphs">0.93834</tspan> <tspan x="197" textLength="32.5" lengthAdjust="spacingAndGlyphs">0.93840</tspan></text><text y="545" font-size="9.6" fill="#000" stroke="#000"><tspan x="7" textLength="31" lengthAdjust="spacingAndGlyphs">RSI(14)</tspan> <tspan x="42" textLength="33" lengthAdjust="spacingAndGlyphs">39.0822</tspan></text><text y="639" font-size="9.6" fill="#000" stroke="#000"><tspan x="7" textLength="65" lengthAdjust="spacingAndGlyphs">MACD(12,26,9)</tspan> <tspan x="76" textLength="40" lengthAdjust="spacingAndGlyphs">-0.003067</tspan> <tspan x="120" textLength="40" lengthAdjust="spacingAndGlyphs">-0.003369</tspan></text><text x="2.5" y="731" font-size="9.6" fill="#000" stroke="#000" textLength="46" lengthAdjust="spacingAndGlyphs">18 Jul 2019</text><text x="66.5" y="731" font-size="9.6" fill="#000" stroke="#000" textLength="47.5" lengthAdjust="spacingAndGlyphs">6 Aug 2019</text><text x="130.5" y="731" font-size="9.6" fill="#000" stroke="#000" textLength="52.4" lengthAdjust="spacingAndGlyphs">24 Aug 2019</text><text x="194.5" y="731" font-size="9.6" fill="#000" stroke="#000" textLength="51" lengthAdjust="spacingAndGlyphs">12 Sep 2019</text><text x="258.5" y="731" font-size="9.6" fill="#000" stroke="#000" textLength="44.4" lengthAdjust="spacingAndGlyphs">1 Oct 2019</text><text x="322.5" y="731" font-size="9.6" fill="#000" stroke="#000" textLength="49.8" lengthAdjust="spacingAndGlyphs">19 Oct 2019</text><text x="386.5" y="731" font-size="9.6" fill="#000" stroke="#000" textLength="48" lengthAdjust="spacingAndGlyphs">7 Nov 2019</text><text x="450.5" y="731" font-size="9.6" fill="#000" stroke="#000" textLength="53" lengthAdjust="spacingAndGlyphs">26 Nov 2019</text><text x="514.5" y="731" font-size="9.6" fill="#000" stroke="#000" textLength="51.3" lengthAdjust="spacingAndGlyphs">14 Dec 2019</text><text x="578.5" y="731" font-size="9.6" fill="#000" stroke="#000" textLength="44.2" lengthAdjust="spacingAndGlyphs">2 Jan 2020</text><text x="642.5" y="731" font-size="9.6" fill="#000" stroke="#000" textLength="48.7" lengthAdjust="spacingAndGlyphs">21 Jan 2020</text><text x="706.5" y="731" font-size="9.6" fill="#000" stroke="#000" textLength="46" lengthAdjust="spacingAndGlyphs">8 Feb 2020</text><text x="770.5" y="731" font-size="9.6" fill="#000" stroke="#000" textLength="50.5" lengthAdjust="spacingAndGlyphs">27 Feb 2020</text><text x="834.5" y="731" font-size="9.6" fill="#000" stroke="#000" textLength="51" lengthAdjust="spacingAndGlyphs">17 Mar 2020</text><text x="898.5" y="731" font-size="9.6" fill="#000" stroke="#000" textLength="45.4" lengthAdjust="spacingAndGlyphs">4 Apr 2020</text><text x="962.5" y="731" font-size="9.6" fill="#000" stroke="#000" textLength="50.6" lengthAdjust="spacingAndGlyphs">23 Apr 2020</text><text x="1026.5" y="731" font-size="9.6" fill="#000" stroke="#000" textLength="53.8" lengthAdjust="spacingAndGlyphs">12 May 2020</text><text x="1090.5" y="731" font-size="9.6" fill="#000" stroke="#000" textLength="53.9" lengthAdjust="spacingAndGlyphs">30 May 2020</text><text x="1154.5" y="731" font-size="9.6" fill="#000" stroke="#000" textLength="48.8" lengthAdjust="spacingAndGlyphs">18 Jun 2020</text><text x="1218.5" y="731" font-size="9.6" fill="#000" stroke="#000" textLength="39.8" lengthAdjust="spacingAndGlyphs">7 Jul 2020</text><g font-size="12.2" class="tb"><text x="15.9" y="756" fill="#6e6e6e" stroke="#6e6e6e" stroke-width="0.12" textLength="80.3" lengthAdjust="spacingAndGlyphs">EURUSD,Daily</text><text x="118" y="756" fill="#000" stroke="#000" stroke-width="0.12" textLength="79.5" lengthAdjust="spacingAndGlyphs">USDCHF,Daily</text><text x="218.6" y="756" fill="#6e6e6e" stroke="#6e6e6e" stroke-width="0.12" textLength="82.1" lengthAdjust="spacingAndGlyphs">AUDUSD,Daily</text><text x="322.7" y="756" fill="#6e6e6e" stroke="#6e6e6e" stroke-width="0.12" textLength="81.3" lengthAdjust="spacingAndGlyphs">USDCAD,Daily</text><text x="426.4" y="756" fill="#6e6e6e" stroke="#6e6e6e" stroke-width="0.12" textLength="82.6" lengthAdjust="spacingAndGlyphs">USDCNH,Daily</text><text x="530.8" y="756" fill="#6e6e6e" stroke="#6e6e6e" stroke-width="0.12" textLength="77.8" lengthAdjust="spacingAndGlyphs">EURUSD,M15</text><text x="630.9" y="756" fill="#6e6e6e" stroke="#6e6e6e" stroke-width="0.12" textLength="78.2" lengthAdjust="spacingAndGlyphs">GBPUSD,M30</text><text x="730.4" y="756" fill="#6e6e6e" stroke="#6e6e6e" stroke-width="0.12" textLength="81.6" lengthAdjust="spacingAndGlyphs">XAUUSD,Daily</text><text x="834" y="756" fill="#6e6e6e" stroke="#6e6e6e" stroke-width="0.12" textLength="50.9" lengthAdjust="spacingAndGlyphs">HK50,H1</text><text x="907.2" y="756" fill="#6e6e6e" stroke="#6e6e6e" stroke-width="0.12" textLength="56.5" lengthAdjust="spacingAndGlyphs">UK100,H1</text><text x="987" y="756" fill="#6e6e6e" stroke="#6e6e6e" stroke-width="0.12" textLength="56.4" lengthAdjust="spacingAndGlyphs">UK100,H1</text><text x="1067" y="756" fill="#6e6e6e" stroke="#6e6e6e" stroke-width="0.12" textLength="56.5" lengthAdjust="spacingAndGlyphs">GER30,H1</text><text x="1146" y="756" fill="#6e6e6e" stroke="#6e6e6e" stroke-width="0.12" textLength="54.4" lengthAdjust="spacingAndGlyphs">FRA40,H1</text><text x="1222.1" y="756" fill="#6e6e6e" stroke="#6e6e6e" stroke-width="0.12" textLength="62.9" lengthAdjust="spacingAndGlyphs">USOil,Daily</text><text x="1306.3" y="756" fill="#6e6e6e" stroke="#6e6e6e" stroke-width="0.12" textLength="62.1" lengthAdjust="spacingAndGlyphs">USDJPY,H1</text><text x="1391" y="756" fill="#6e6e6e" stroke="#6e6e6e" stroke-width="0.12" textLength="56.4" lengthAdjust="spacingAndGlyphs">DJ30,M15</text><text x="1469.7" y="756" fill="#6e6e6e" stroke="#6e6e6e" stroke-width="0.12" textLength="79.0" lengthAdjust="spacingAndGlyphs">CHINA300,H4</text></g></g></svg>
</body></html>
